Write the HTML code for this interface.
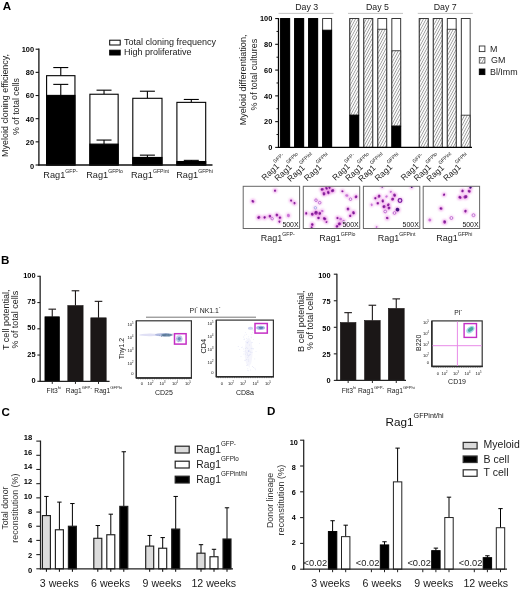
<!DOCTYPE html><html><head><meta charset="utf-8"><title>Figure</title>
<style>html,body{margin:0;padding:0;background:#fff}svg{display:block}text{font-family:'Liberation Sans', Arial, sans-serif}</style>
</head><body>
<svg width="520" height="589" viewBox="0 0 520 589" font-family='"Liberation Sans", Arial, sans-serif'>
<defs>
<pattern id="hatch" width="2.4" height="2.4" patternUnits="userSpaceOnUse" patternTransform="rotate(-62)"><rect width="2.4" height="2.4" fill="#fbfbfb"/><line x1="0" y1="1.2" x2="2.4" y2="1.2" stroke="#909090" stroke-width="0.72"/></pattern>
<filter id="b1" x="-50%" y="-50%" width="200%" height="200%"><feGaussianBlur stdDeviation="0.6"/></filter>
<filter id="b2" x="-50%" y="-50%" width="200%" height="200%"><feGaussianBlur stdDeviation="1.0"/></filter>
<filter id="b3" x="-50%" y="-50%" width="200%" height="200%"><feGaussianBlur stdDeviation="0.35"/></filter>
</defs>
<rect width="520" height="589" fill="#fff"/>
<text x="2.7" y="10.0" font-size="11.6" text-anchor="start" font-weight="bold" fill="#000">A</text>
<text x="1.0" y="263.7" font-size="11.6" text-anchor="start" font-weight="bold" fill="#000">B</text>
<text x="1.6" y="416.0" font-size="11.6" text-anchor="start" font-weight="bold" fill="#000">C</text>
<text x="266.9" y="415.1" font-size="11.6" text-anchor="start" font-weight="bold" fill="#000">D</text>
<line x1="60.775000000000006" y1="67.56" x2="60.775000000000006" y2="75.68" stroke="#000" stroke-width="1.1"/>
<line x1="53.275000000000006" y1="67.56" x2="68.275" y2="67.56" stroke="#000" stroke-width="1.1"/>
<rect x="46.6" y="75.68" width="28.35" height="89.32" fill="#fff" stroke="#000" stroke-width="1.1"/>
<rect x="46.6" y="95.4" width="28.35" height="69.6" fill="#000" stroke="#000" stroke-width="1.1"/>
<line x1="60.775000000000006" y1="84.38" x2="60.775000000000006" y2="95.4" stroke="#000" stroke-width="1.1"/>
<line x1="53.275000000000006" y1="84.38" x2="68.275" y2="84.38" stroke="#000" stroke-width="1.1"/>
<line x1="104.025" y1="90.18" x2="104.025" y2="94.24" stroke="#000" stroke-width="1.1"/>
<line x1="96.525" y1="90.18" x2="111.525" y2="90.18" stroke="#000" stroke-width="1.1"/>
<rect x="89.9" y="94.24" width="28.25" height="70.76" fill="#fff" stroke="#000" stroke-width="1.1"/>
<rect x="89.9" y="144.12" width="28.25" height="20.879999999999995" fill="#000" stroke="#000" stroke-width="1.1"/>
<line x1="104.025" y1="140.06" x2="104.025" y2="144.12" stroke="#000" stroke-width="1.1"/>
<line x1="96.525" y1="140.06" x2="111.525" y2="140.06" stroke="#000" stroke-width="1.1"/>
<line x1="147.4" y1="91.22" x2="147.4" y2="98.3" stroke="#000" stroke-width="1.1"/>
<line x1="139.9" y1="91.22" x2="154.9" y2="91.22" stroke="#000" stroke-width="1.1"/>
<rect x="132.8" y="98.3" width="29.19999999999999" height="66.7" fill="#fff" stroke="#000" stroke-width="1.1"/>
<rect x="132.8" y="157.46" width="29.19999999999999" height="7.539999999999992" fill="#000" stroke="#000" stroke-width="1.1"/>
<line x1="147.4" y1="155.14" x2="147.4" y2="157.46" stroke="#000" stroke-width="1.1"/>
<line x1="139.9" y1="155.14" x2="154.9" y2="155.14" stroke="#000" stroke-width="1.1"/>
<line x1="191.3" y1="99.46" x2="191.3" y2="102.36" stroke="#000" stroke-width="1.1"/>
<line x1="183.8" y1="99.46" x2="198.8" y2="99.46" stroke="#000" stroke-width="1.1"/>
<rect x="176.9" y="102.36" width="28.799999999999983" height="62.64" fill="#fff" stroke="#000" stroke-width="1.1"/>
<rect x="176.9" y="161.52" width="28.799999999999983" height="3.4799999999999898" fill="#000" stroke="#000" stroke-width="1.1"/>
<line x1="191.3" y1="160.36" x2="191.3" y2="161.52" stroke="#000" stroke-width="1.1"/>
<line x1="183.8" y1="160.36" x2="198.8" y2="160.36" stroke="#000" stroke-width="1.1"/>
<line x1="38.9" y1="48.6" x2="38.9" y2="165.6" stroke="#111" stroke-width="1.3"/>
<line x1="38.3" y1="165.0" x2="212.5" y2="165.0" stroke="#111" stroke-width="1.3"/>
<line x1="35.6" y1="165.0" x2="38.9" y2="165.0" stroke="#111" stroke-width="1.1"/>
<line x1="35.6" y1="141.84" x2="38.9" y2="141.84" stroke="#111" stroke-width="1.1"/>
<line x1="35.6" y1="118.68" x2="38.9" y2="118.68" stroke="#111" stroke-width="1.1"/>
<line x1="35.6" y1="95.52000000000001" x2="38.9" y2="95.52000000000001" stroke="#111" stroke-width="1.1"/>
<line x1="35.6" y1="72.36000000000001" x2="38.9" y2="72.36000000000001" stroke="#111" stroke-width="1.1"/>
<line x1="35.6" y1="49.2" x2="38.9" y2="49.2" stroke="#111" stroke-width="1.1"/>
<text x="34.1" y="168.85" font-size="7.4" text-anchor="end" font-weight="bold" fill="#000">0</text>
<text x="34.1" y="145.39" font-size="7.4" text-anchor="end" font-weight="bold" fill="#000">20</text>
<text x="34.1" y="121.93" font-size="7.4" text-anchor="end" font-weight="bold" fill="#000">40</text>
<text x="34.1" y="98.47" font-size="7.4" text-anchor="end" font-weight="bold" fill="#000">60</text>
<text x="34.1" y="75.01" font-size="7.4" text-anchor="end" font-weight="bold" fill="#000">80</text>
<text x="34.1" y="51.55" font-size="7.4" text-anchor="end" font-weight="bold" fill="#000">100</text>
<text x="8.2" y="105.4" font-size="8.95" text-anchor="middle" font-weight="normal" fill="#222" transform="rotate(-90 8.2 105.4)">Myeloid cloning efficiency,</text>
<text x="18.7" y="106.5" font-size="8.85" text-anchor="middle" font-weight="normal" fill="#222" transform="rotate(-90 18.7 106.5)">% of total cells</text>
<text x="60.5" y="178" font-size="9.2" text-anchor="middle" font-weight="normal" fill="#222">Rag1<tspan font-size="5.2" dy="-5">GFP-</tspan></text>
<text x="104.5" y="178" font-size="9.2" text-anchor="middle" font-weight="normal" fill="#222">Rag1<tspan font-size="5.2" dy="-5">GFPlo</tspan></text>
<text x="150" y="178" font-size="9.2" text-anchor="middle" font-weight="normal" fill="#222">Rag1<tspan font-size="5.2" dy="-5">GFPint</tspan></text>
<text x="194.5" y="178" font-size="9.2" text-anchor="middle" font-weight="normal" fill="#222">Rag1<tspan font-size="5.2" dy="-5">GFPhi</tspan></text>
<rect x="109.7" y="40.2" width="10.5" height="4.8" fill="#fff" stroke="#000" stroke-width="1"/>
<rect x="109.7" y="50.2" width="10.5" height="4.8" fill="#000" stroke="#000" stroke-width="1"/>
<text x="124" y="45.3" font-size="9.0" text-anchor="start" font-weight="normal" fill="#1a1a1a">Total cloning frequency</text>
<text x="124" y="54.8" font-size="9.0" text-anchor="start" font-weight="normal" fill="#1a1a1a">High proliferative</text>
<text x="306.75" y="10.2" font-size="8.8" text-anchor="middle" font-weight="normal" fill="#222">Day 3</text>
<line x1="278.5" y1="13.4" x2="333.5" y2="13.4" stroke="#bcbcbc" stroke-width="0.9"/>
<rect x="280.65" y="18.55" width="9.0" height="128.85" fill="#fff" stroke="#222" stroke-width="0.9"/>
<rect x="280.65" y="18.55" width="9.0" height="128.85" fill="#000" stroke="#000" stroke-width="0.9"/>
<rect x="294.65" y="18.55" width="9.0" height="128.85" fill="#fff" stroke="#222" stroke-width="0.9"/>
<rect x="294.65" y="18.55" width="9.0" height="128.85" fill="#000" stroke="#000" stroke-width="0.9"/>
<rect x="308.65" y="18.55" width="9.0" height="128.85" fill="#fff" stroke="#222" stroke-width="0.9"/>
<rect x="308.65" y="18.55" width="9.0" height="128.85" fill="#000" stroke="#000" stroke-width="0.9"/>
<rect x="322.65" y="18.55" width="9.0" height="128.85" fill="#fff" stroke="#222" stroke-width="0.9"/>
<rect x="322.65" y="30.15" width="9.0" height="117.25" fill="#000" stroke="#000" stroke-width="0.9"/>
<text x="264.8" y="180.9" font-size="8.5" text-anchor="start" fill="#222" transform="rotate(-43 264.8 180.9)">Rag1<tspan font-size="5.0" dy="-5.8" dx="-0.8">GFP-</tspan></text>
<text x="277.7" y="181.6" font-size="8.5" text-anchor="start" fill="#222" transform="rotate(-43 277.7 181.6)">Rag1<tspan font-size="5.0" dy="-5.8" dx="-0.8">GFPlo</tspan></text>
<text x="290.6" y="182.3" font-size="8.5" text-anchor="start" fill="#222" transform="rotate(-43 290.6 182.3)">Rag1<tspan font-size="5.0" dy="-5.8" dx="-0.8">GFPint</tspan></text>
<text x="307.3" y="181.6" font-size="8.5" text-anchor="start" fill="#222" transform="rotate(-43 307.3 181.6)">Rag1<tspan font-size="5.0" dy="-5.8" dx="-0.8">GFPhi</tspan></text>
<text x="377.5" y="10.2" font-size="8.8" text-anchor="middle" font-weight="normal" fill="#222">Day 5</text>
<line x1="348.0" y1="13.4" x2="403.0" y2="13.4" stroke="#bcbcbc" stroke-width="0.9"/>
<rect x="349.85" y="18.55" width="8.85" height="128.85" fill="#fff" stroke="#222" stroke-width="0.9"/>
<rect x="349.85" y="18.55" width="8.85" height="96.64" fill="url(#hatch)" stroke="#333" stroke-width="0.9"/>
<rect x="349.85" y="115.19" width="8.85" height="32.21000000000001" fill="#000" stroke="#000" stroke-width="0.9"/>
<rect x="363.85" y="18.55" width="8.85" height="128.85" fill="#fff" stroke="#222" stroke-width="0.9"/>
<rect x="363.85" y="18.55" width="8.85" height="128.85" fill="url(#hatch)" stroke="#333" stroke-width="0.9"/>
<rect x="377.85" y="18.55" width="8.85" height="128.85" fill="#fff" stroke="#222" stroke-width="0.9"/>
<rect x="377.85" y="29.24" width="8.85" height="118.16000000000001" fill="url(#hatch)" stroke="#333" stroke-width="0.9"/>
<rect x="391.85" y="18.55" width="8.85" height="128.85" fill="#fff" stroke="#222" stroke-width="0.9"/>
<rect x="391.85" y="50.76" width="8.85" height="75.38" fill="url(#hatch)" stroke="#333" stroke-width="0.9"/>
<rect x="391.85" y="126.14" width="8.85" height="21.260000000000005" fill="#000" stroke="#000" stroke-width="0.9"/>
<text x="335.6" y="180.9" font-size="8.5" text-anchor="start" fill="#222" transform="rotate(-43 335.6 180.9)">Rag1<tspan font-size="5.0" dy="-5.8" dx="-0.8">GFP-</tspan></text>
<text x="348.5" y="181.6" font-size="8.5" text-anchor="start" fill="#222" transform="rotate(-43 348.5 181.6)">Rag1<tspan font-size="5.0" dy="-5.8" dx="-0.8">GFPlo</tspan></text>
<text x="361.4" y="182.3" font-size="8.5" text-anchor="start" fill="#222" transform="rotate(-43 361.4 182.3)">Rag1<tspan font-size="5.0" dy="-5.8" dx="-0.8">GFPint</tspan></text>
<text x="378.1" y="181.6" font-size="8.5" text-anchor="start" fill="#222" transform="rotate(-43 378.1 181.6)">Rag1<tspan font-size="5.0" dy="-5.8" dx="-0.8">GFPhi</tspan></text>
<text x="445.25" y="10.2" font-size="8.8" text-anchor="middle" font-weight="normal" fill="#222">Day 7</text>
<line x1="417.8" y1="13.4" x2="472.8" y2="13.4" stroke="#bcbcbc" stroke-width="0.9"/>
<rect x="419.3" y="18.55" width="8.85" height="128.85" fill="#fff" stroke="#222" stroke-width="0.9"/>
<rect x="419.3" y="18.55" width="8.85" height="128.85" fill="url(#hatch)" stroke="#333" stroke-width="0.9"/>
<rect x="433.3" y="18.55" width="8.85" height="128.85" fill="#fff" stroke="#222" stroke-width="0.9"/>
<rect x="433.3" y="18.55" width="8.85" height="128.85" fill="url(#hatch)" stroke="#333" stroke-width="0.9"/>
<rect x="447.3" y="18.55" width="8.85" height="128.85" fill="#fff" stroke="#222" stroke-width="0.9"/>
<rect x="447.3" y="29.24" width="8.85" height="118.16000000000001" fill="url(#hatch)" stroke="#333" stroke-width="0.9"/>
<rect x="461.3" y="18.55" width="8.85" height="128.85" fill="#fff" stroke="#222" stroke-width="0.9"/>
<rect x="461.3" y="115.19" width="8.85" height="32.21000000000001" fill="url(#hatch)" stroke="#333" stroke-width="0.9"/>
<text x="404.0" y="180.9" font-size="8.5" text-anchor="start" fill="#222" transform="rotate(-43 404.0 180.9)">Rag1<tspan font-size="5.0" dy="-5.8" dx="-0.8">GFP-</tspan></text>
<text x="416.9" y="181.6" font-size="8.5" text-anchor="start" fill="#222" transform="rotate(-43 416.9 181.6)">Rag1<tspan font-size="5.0" dy="-5.8" dx="-0.8">GFPlo</tspan></text>
<text x="429.8" y="182.3" font-size="8.5" text-anchor="start" fill="#222" transform="rotate(-43 429.8 182.3)">Rag1<tspan font-size="5.0" dy="-5.8" dx="-0.8">GFPint</tspan></text>
<text x="446.5" y="181.6" font-size="8.5" text-anchor="start" fill="#222" transform="rotate(-43 446.5 181.6)">Rag1<tspan font-size="5.0" dy="-5.8" dx="-0.8">GFPhi</tspan></text>
<line x1="278.5" y1="18.05" x2="278.5" y2="148.0" stroke="#000" stroke-width="1.3"/>
<line x1="277.9" y1="147.4" x2="472" y2="147.4" stroke="#000" stroke-width="1.3"/>
<line x1="275.2" y1="147.4" x2="278.5" y2="147.4" stroke="#111" stroke-width="1.1"/>
<line x1="276.5" y1="134.52" x2="278.5" y2="134.52" stroke="#111" stroke-width="1.0"/>
<line x1="275.2" y1="121.63" x2="278.5" y2="121.63" stroke="#111" stroke-width="1.1"/>
<line x1="276.5" y1="108.75" x2="278.5" y2="108.75" stroke="#111" stroke-width="1.0"/>
<line x1="275.2" y1="95.86" x2="278.5" y2="95.86" stroke="#111" stroke-width="1.1"/>
<line x1="276.5" y1="82.98" x2="278.5" y2="82.98" stroke="#111" stroke-width="1.0"/>
<line x1="275.2" y1="70.09" x2="278.5" y2="70.09" stroke="#111" stroke-width="1.1"/>
<line x1="276.5" y1="57.21" x2="278.5" y2="57.21" stroke="#111" stroke-width="1.0"/>
<line x1="275.2" y1="44.32" x2="278.5" y2="44.32" stroke="#111" stroke-width="1.1"/>
<line x1="276.5" y1="31.44" x2="278.5" y2="31.44" stroke="#111" stroke-width="1.0"/>
<line x1="275.2" y1="18.55" x2="278.5" y2="18.55" stroke="#111" stroke-width="1.1"/>
<text x="272.3" y="150.05" font-size="7.4" text-anchor="end" font-weight="bold" fill="#000">0</text>
<text x="272.3" y="124.28" font-size="7.4" text-anchor="end" font-weight="bold" fill="#000">20</text>
<text x="272.3" y="98.51" font-size="7.4" text-anchor="end" font-weight="bold" fill="#000">40</text>
<text x="272.3" y="72.74" font-size="7.4" text-anchor="end" font-weight="bold" fill="#000">60</text>
<text x="272.3" y="46.97" font-size="7.4" text-anchor="end" font-weight="bold" fill="#000">80</text>
<text x="272.3" y="21.2" font-size="7.4" text-anchor="end" font-weight="bold" fill="#000">100</text>
<text x="246.3" y="79.9" font-size="9.1" text-anchor="middle" font-weight="normal" fill="#222" transform="rotate(-90 246.3 79.9)">Myeloid differentiation,</text>
<text x="256.7" y="74.6" font-size="9.0" text-anchor="middle" font-weight="normal" fill="#222" transform="rotate(-90 256.7 74.6)">% of total cultures</text>
<rect x="479.3" y="46" width="5.6" height="5.6" fill="#fff" stroke="#333" stroke-width="0.9"/>
<rect x="479.3" y="57.5" width="5.6" height="5.6" fill="url(#hatch)" stroke="#555" stroke-width="0.9"/>
<rect x="479.3" y="69" width="5.6" height="5.6" fill="#000" stroke="#000" stroke-width="0.9"/>
<text x="490" y="51.6" font-size="8.9" text-anchor="start" font-weight="normal" fill="#222">M</text>
<text x="491" y="63.3" font-size="8.9" text-anchor="start" font-weight="normal" fill="#222">GM</text>
<text x="490" y="74.6" font-size="8.9" text-anchor="start" font-weight="normal" fill="#222">Bl/Imm</text>
<clipPath id="cp0"><rect x="243.2" y="186.3" width="56.4" height="42.2"/></clipPath>
<rect x="243.2" y="186.3" width="56.4" height="42.2" fill="#fff" stroke="none" stroke-width="0"/>
<g clip-path="url(#cp0)">
<g filter="url(#b2)">
<circle cx="275.1" cy="190.6" r="2.3" fill="#ea88e4" opacity="0.7"/>
<circle cx="252.9" cy="201.3" r="2.5" fill="#ea88e4" opacity="0.7"/>
<circle cx="291.1" cy="200.5" r="2.2" fill="#ea88e4" opacity="0.7"/>
<circle cx="294.5" cy="203.2" r="2.3" fill="#ea88e4" opacity="0.7"/>
<circle cx="258.8" cy="217.4" r="2.7" fill="#ea88e4" opacity="0.7"/>
<circle cx="264.6" cy="217.4" r="2.5" fill="#ea88e4" opacity="0.7"/>
<circle cx="269.9" cy="216.2" r="2.5" fill="#ea88e4" opacity="0.7"/>
<circle cx="272.2" cy="218.7" r="2.3" fill="#ea88e4" opacity="0.45"/>
<circle cx="276.9" cy="215" r="2.5" fill="#ea88e4" opacity="0.7"/>
<circle cx="280" cy="217.7" r="2.4" fill="#ea88e4" opacity="0.7"/>
<circle cx="279.4" cy="221.6" r="2.2" fill="#ea88e4" opacity="0.7"/>
<circle cx="288.4" cy="215.5" r="2.7" fill="#ea88e4" opacity="0.45"/>
</g>
<g filter="url(#b3)">
<ellipse cx="275.1" cy="190.6" rx="1.04" ry="1.18" fill="#a030ac" transform="rotate(166 275.1 190.6)"/>
<circle cx="274.74" cy="190.86" r="0.60" fill="#6c1e8c"/>
<ellipse cx="252.9" cy="201.3" rx="1.18" ry="1.54" fill="#a030ac" transform="rotate(129 252.9 201.3)"/>
<circle cx="252.67" cy="200.97" r="0.72" fill="#6c1e8c"/>
<ellipse cx="291.1" cy="200.5" rx="0.99" ry="1.12" fill="#a030ac" transform="rotate(141 291.1 200.5)"/>
<circle cx="291.04" cy="200.76" r="0.56" fill="#6c1e8c"/>
<ellipse cx="294.5" cy="203.2" rx="0.99" ry="1.19" fill="#a030ac" transform="rotate(160 294.5 203.2)"/>
<circle cx="294.57" cy="202.85" r="0.60" fill="#6c1e8c"/>
<ellipse cx="258.8" cy="217.4" rx="1.47" ry="1.54" fill="#a030ac" transform="rotate(56 258.8 217.4)"/>
<circle cx="258.44" cy="217.69" r="0.80" fill="#6c1e8c"/>
<ellipse cx="264.6" cy="217.4" rx="1.17" ry="1.33" fill="#a030ac" transform="rotate(30 264.6 217.4)"/>
<circle cx="264.66" cy="217.45" r="0.68" fill="#6c1e8c"/>
<ellipse cx="269.9" cy="216.2" rx="1.27" ry="1.32" fill="#a030ac" transform="rotate(146 269.9 216.2)"/>
<circle cx="270.01" cy="216.10" r="0.68" fill="#6c1e8c"/>
<circle cx="272.2" cy="218.7" r="1.20" fill="#f6e6f8" stroke="#b85acc" stroke-width="0.8"/>
<ellipse cx="276.9" cy="215" rx="1.26" ry="1.43" fill="#a030ac" transform="rotate(136 276.9 215)"/>
<circle cx="276.84" cy="214.85" r="0.68" fill="#6c1e8c"/>
<ellipse cx="280" cy="217.7" rx="1.17" ry="1.33" fill="#a030ac" transform="rotate(76 280 217.7)"/>
<circle cx="279.80" cy="217.44" r="0.64" fill="#6c1e8c"/>
<ellipse cx="279.4" cy="221.6" rx="1.07" ry="1.08" fill="#a030ac" transform="rotate(76 279.4 221.6)"/>
<circle cx="279.42" cy="221.90" r="0.56" fill="#6c1e8c"/>
<ellipse cx="288.4" cy="215.5" rx="1.51" ry="1.61" fill="#c264d2" opacity="0.85" transform="rotate(18 288.4 215.5)"/>
</g>
</g>
<rect x="282.2" y="220.8" width="17" height="7" fill="#fff" stroke="none" stroke-width="0" opacity="0.75"/>
<text x="298.59999999999997" y="226.7" font-size="7.6" text-anchor="end" font-weight="normal" fill="#111" textLength="16.2" lengthAdjust="spacingAndGlyphs">500X</text>
<rect x="243.2" y="186.3" width="56.4" height="42.2" fill="none" stroke="#666" stroke-width="1.0"/>
<text x="260.8" y="241.1" font-size="9.0" text-anchor="start" font-weight="normal" fill="#222">Rag1<tspan font-size="5.2" dy="-5.6">GFP-</tspan></text>
<clipPath id="cp1"><rect x="303.3" y="186.3" width="56.4" height="42.2"/></clipPath>
<rect x="303.3" y="186.3" width="56.4" height="42.2" fill="#fff" stroke="none" stroke-width="0"/>
<g clip-path="url(#cp1)">
<g filter="url(#b2)">
<circle cx="322.2" cy="189.4" r="2.7" fill="#ea88e4" opacity="0.7"/>
<circle cx="326.5" cy="188.2" r="2.5" fill="#ea88e4" opacity="0.7"/>
<circle cx="329.5" cy="187.6" r="2.4" fill="#ea88e4" opacity="0.7"/>
<circle cx="332.6" cy="190.6" r="2.9" fill="#ea88e4" opacity="0.7"/>
<circle cx="328.3" cy="192.5" r="2.7" fill="#ea88e4" opacity="0.7"/>
<circle cx="324" cy="193.7" r="2.7" fill="#ea88e4" opacity="0.7"/>
<circle cx="342.5" cy="191.2" r="2.1" fill="#ea88e4" opacity="0.7"/>
<circle cx="346.8" cy="195.5" r="2.7" fill="#ea88e4" opacity="0.45"/>
<circle cx="350.5" cy="199.2" r="2.4" fill="#ea88e4" opacity="0.45"/>
<circle cx="356" cy="196.8" r="2.5" fill="#ea88e4" opacity="0.7"/>
<circle cx="316" cy="200.2" r="2.4" fill="#ea88e4" opacity="0.45"/>
<circle cx="319.7" cy="202.7" r="2.4" fill="#ea88e4" opacity="0.45"/>
<circle cx="315.4" cy="207.8" r="2.3" fill="#ea88e4" opacity="0.45"/>
<circle cx="348" cy="209" r="2.5" fill="#ea88e4" opacity="0.7"/>
<circle cx="353.5" cy="212.8" r="2.7" fill="#ea88e4" opacity="0.7"/>
<circle cx="350.2" cy="215.8" r="2.3" fill="#ea88e4" opacity="0.7"/>
<circle cx="306.2" cy="213.4" r="2.3" fill="#ea88e4" opacity="0.7"/>
<circle cx="312.3" cy="214.2" r="2.7" fill="#ea88e4" opacity="0.7"/>
<circle cx="316" cy="212.8" r="2.9" fill="#ea88e4" opacity="0.7"/>
<circle cx="319.7" cy="213.4" r="2.7" fill="#ea88e4" opacity="0.7"/>
<circle cx="322.2" cy="211" r="2.4" fill="#ea88e4" opacity="0.45"/>
<circle cx="318.5" cy="218" r="2.5" fill="#ea88e4" opacity="0.7"/>
<circle cx="324.6" cy="218.7" r="2.9" fill="#ea88e4" opacity="0.7"/>
<circle cx="326.5" cy="222" r="2.1" fill="#ea88e4" opacity="0.7"/>
<circle cx="337.5" cy="218" r="2.3" fill="#ea88e4" opacity="0.7"/>
<circle cx="340.6" cy="219" r="2.4" fill="#ea88e4" opacity="0.45"/>
<circle cx="343.7" cy="222" r="2.7" fill="#ea88e4" opacity="0.7"/>
<circle cx="339.4" cy="223.8" r="2.7" fill="#ea88e4" opacity="0.7"/>
<circle cx="337" cy="226.3" r="2.5" fill="#ea88e4" opacity="0.7"/>
<circle cx="312.3" cy="224.5" r="2.5" fill="#ea88e4" opacity="0.7"/>
<circle cx="311.7" cy="227.3" r="2.1" fill="#ea88e4" opacity="0.7"/>
<circle cx="346" cy="224.5" r="2.5" fill="#ea88e4" opacity="0.7"/>
</g>
<g filter="url(#b3)">
<ellipse cx="322.2" cy="189.4" rx="1.32" ry="1.65" fill="#a030ac" transform="rotate(87 322.2 189.4)"/>
<circle cx="321.92" cy="189.39" r="0.80" fill="#6c1e8c"/>
<ellipse cx="326.5" cy="188.2" rx="1.16" ry="1.56" fill="#a030ac" transform="rotate(142 326.5 188.2)"/>
<circle cx="326.56" cy="188.50" r="0.72" fill="#6c1e8c"/>
<ellipse cx="329.5" cy="187.6" rx="1.10" ry="1.39" fill="#a030ac" transform="rotate(152 329.5 187.6)"/>
<circle cx="329.50" cy="187.84" r="0.64" fill="#6c1e8c"/>
<ellipse cx="332.6" cy="190.6" rx="1.43" ry="1.70" fill="#a030ac" transform="rotate(69 332.6 190.6)"/>
<circle cx="332.58" cy="190.73" r="0.88" fill="#6c1e8c"/>
<ellipse cx="328.3" cy="192.5" rx="1.30" ry="1.74" fill="#a030ac" transform="rotate(165 328.3 192.5)"/>
<circle cx="328.36" cy="192.64" r="0.80" fill="#6c1e8c"/>
<ellipse cx="324" cy="193.7" rx="1.42" ry="1.75" fill="#a030ac" transform="rotate(171 324 193.7)"/>
<circle cx="323.88" cy="194.05" r="0.80" fill="#6c1e8c"/>
<ellipse cx="342.5" cy="191.2" rx="0.91" ry="1.12" fill="#a030ac" transform="rotate(126 342.5 191.2)"/>
<circle cx="342.15" cy="191.41" r="0.52" fill="#6c1e8c"/>
<ellipse cx="346.8" cy="195.5" rx="1.32" ry="1.60" fill="#c264d2" opacity="0.85" transform="rotate(100 346.8 195.5)"/>
<circle cx="350.5" cy="199.2" r="1.28" fill="#f6e6f8" stroke="#b85acc" stroke-width="0.8"/>
<ellipse cx="356" cy="196.8" rx="1.28" ry="1.53" fill="#a030ac" transform="rotate(35 356 196.8)"/>
<circle cx="356.26" cy="197.09" r="0.72" fill="#6c1e8c"/>
<circle cx="316" cy="200.2" r="1.28" fill="#f6e6f8" stroke="#b85acc" stroke-width="0.8"/>
<circle cx="319.7" cy="202.7" r="1.28" fill="#f6e6f8" stroke="#b85acc" stroke-width="0.8"/>
<circle cx="315.4" cy="207.8" r="1.20" fill="#f4f0ff" stroke="#8f98e0" stroke-width="0.7"/>
<ellipse cx="348" cy="209" rx="1.34" ry="1.37" fill="#a030ac" transform="rotate(150 348 209)"/>
<circle cx="347.75" cy="208.83" r="0.72" fill="#6c1e8c"/>
<ellipse cx="353.5" cy="212.8" rx="1.33" ry="1.69" fill="#a030ac" transform="rotate(156 353.5 212.8)"/>
<circle cx="353.55" cy="213.16" r="0.80" fill="#6c1e8c"/>
<ellipse cx="350.2" cy="215.8" rx="1.13" ry="1.26" fill="#a030ac" transform="rotate(158 350.2 215.8)"/>
<circle cx="350.32" cy="215.99" r="0.60" fill="#6c1e8c"/>
<ellipse cx="306.2" cy="213.4" rx="1.07" ry="1.35" fill="#a030ac" transform="rotate(174 306.2 213.4)"/>
<circle cx="306.44" cy="213.31" r="0.60" fill="#6c1e8c"/>
<ellipse cx="312.3" cy="214.2" rx="1.41" ry="1.55" fill="#a030ac" transform="rotate(162 312.3 214.2)"/>
<circle cx="312.22" cy="213.95" r="0.80" fill="#6c1e8c"/>
<ellipse cx="316" cy="212.8" rx="1.83" ry="1.91" fill="#a030ac" transform="rotate(28 316 212.8)"/>
<circle cx="315.87" cy="212.44" r="0.92" fill="#6c1e8c"/>
<ellipse cx="319.7" cy="213.4" rx="1.28" ry="1.57" fill="#a030ac" transform="rotate(25 319.7 213.4)"/>
<circle cx="320.06" cy="213.49" r="0.80" fill="#6c1e8c"/>
<ellipse cx="322.2" cy="211" rx="1.04" ry="1.27" fill="#c264d2" opacity="0.85" transform="rotate(96 322.2 211)"/>
<ellipse cx="318.5" cy="218" rx="1.13" ry="1.36" fill="#a030ac" transform="rotate(88 318.5 218)"/>
<circle cx="318.58" cy="217.98" r="0.68" fill="#6c1e8c"/>
<ellipse cx="324.6" cy="218.7" rx="1.45" ry="1.84" fill="#a030ac" transform="rotate(119 324.6 218.7)"/>
<circle cx="324.58" cy="218.55" r="0.88" fill="#6c1e8c"/>
<ellipse cx="326.5" cy="222" rx="0.80" ry="1.06" fill="#a030ac" transform="rotate(67 326.5 222)"/>
<circle cx="326.48" cy="222.15" r="0.48" fill="#6c1e8c"/>
<ellipse cx="337.5" cy="218" rx="1.08" ry="1.19" fill="#a030ac" transform="rotate(135 337.5 218)"/>
<circle cx="337.39" cy="218.15" r="0.60" fill="#6c1e8c"/>
<ellipse cx="340.6" cy="219" rx="1.26" ry="1.41" fill="#c264d2" opacity="0.85" transform="rotate(76 340.6 219)"/>
<ellipse cx="343.7" cy="222" rx="1.59" ry="1.80" fill="#a030ac" transform="rotate(178 343.7 222)"/>
<circle cx="343.98" cy="222.01" r="0.80" fill="#6c1e8c"/>
<ellipse cx="339.4" cy="223.8" rx="1.57" ry="1.63" fill="#a030ac" transform="rotate(57 339.4 223.8)"/>
<circle cx="339.43" cy="224.02" r="0.80" fill="#6c1e8c"/>
<ellipse cx="337" cy="226.3" rx="1.25" ry="1.43" fill="#a030ac" transform="rotate(49 337 226.3)"/>
<circle cx="337.24" cy="226.55" r="0.72" fill="#6c1e8c"/>
<ellipse cx="312.3" cy="224.5" rx="1.29" ry="1.35" fill="#a030ac" transform="rotate(132 312.3 224.5)"/>
<circle cx="312.29" cy="224.68" r="0.68" fill="#6c1e8c"/>
<ellipse cx="311.7" cy="227.3" rx="0.96" ry="1.06" fill="#a030ac" transform="rotate(120 311.7 227.3)"/>
<circle cx="311.51" cy="227.45" r="0.48" fill="#6c1e8c"/>
<ellipse cx="346" cy="224.5" rx="1.43" ry="1.50" fill="#a030ac" transform="rotate(89 346 224.5)"/>
<circle cx="346.36" cy="224.39" r="0.72" fill="#6c1e8c"/>
</g>
</g>
<rect x="342.3" y="220.8" width="17" height="7" fill="#fff" stroke="none" stroke-width="0" opacity="0.75"/>
<text x="358.7" y="226.7" font-size="7.6" text-anchor="end" font-weight="normal" fill="#111" textLength="16.2" lengthAdjust="spacingAndGlyphs">500X</text>
<rect x="303.3" y="186.3" width="56.4" height="42.2" fill="none" stroke="#666" stroke-width="1.0"/>
<text x="319.25" y="241.1" font-size="9.0" text-anchor="start" font-weight="normal" fill="#222">Rag1<tspan font-size="5.2" dy="-5.6">GFPlo</tspan></text>
<clipPath id="cp2"><rect x="363.4" y="186.3" width="56.4" height="42.2"/></clipPath>
<rect x="363.4" y="186.3" width="56.4" height="42.2" fill="#fff" stroke="none" stroke-width="0"/>
<g clip-path="url(#cp2)">
<g filter="url(#b2)">
<circle cx="390.8" cy="191.8" r="2.3" fill="#ea88e4" opacity="0.45"/>
<circle cx="394.5" cy="195.3" r="2.7" fill="#ea88e4" opacity="0.7"/>
<circle cx="379.1" cy="196.2" r="2.5" fill="#ea88e4" opacity="0.7"/>
<circle cx="386.5" cy="196.5" r="2.3" fill="#ea88e4" opacity="0.45"/>
<circle cx="375.4" cy="198.2" r="2.3" fill="#ea88e4" opacity="0.7"/>
<circle cx="392.6" cy="199.2" r="2.5" fill="#ea88e4" opacity="0.7"/>
<circle cx="400" cy="200.5" r="2.9" fill="#ea88e4" opacity="0.7"/>
<circle cx="382.8" cy="201" r="2.5" fill="#ea88e4" opacity="0.7"/>
<circle cx="377.8" cy="203.2" r="2.3" fill="#ea88e4" opacity="0.7"/>
<circle cx="371.7" cy="204.8" r="2.3" fill="#ea88e4" opacity="0.45"/>
<circle cx="388.3" cy="204.8" r="2.5" fill="#ea88e4" opacity="0.7"/>
<circle cx="384" cy="206.6" r="2.7" fill="#ea88e4" opacity="0.7"/>
<circle cx="389" cy="208" r="2.5" fill="#ea88e4" opacity="0.7"/>
<circle cx="397.5" cy="209.7" r="2.9" fill="#ea88e4" opacity="0.7"/>
<circle cx="385.2" cy="211.5" r="2.5" fill="#ea88e4" opacity="0.45"/>
<circle cx="394.5" cy="213" r="2.5" fill="#ea88e4" opacity="0.45"/>
<circle cx="387.3" cy="218" r="2.5" fill="#ea88e4" opacity="0.7"/>
<circle cx="376.6" cy="227" r="2.1" fill="#ea88e4" opacity="0.45"/>
<circle cx="382.2" cy="187.2" r="1.7" fill="#ea88e4" opacity="0.7"/>
<circle cx="411.7" cy="187.2" r="2.0" fill="#ea88e4" opacity="0.7"/>
</g>
<g filter="url(#b3)">
<ellipse cx="390.8" cy="191.8" rx="1.01" ry="1.19" fill="#c264d2" opacity="0.85" transform="rotate(50 390.8 191.8)"/>
<ellipse cx="394.5" cy="195.3" rx="1.39" ry="1.67" fill="#a030ac" transform="rotate(156 394.5 195.3)"/>
<circle cx="394.77" cy="195.28" r="0.80" fill="#6c1e8c"/>
<ellipse cx="379.1" cy="196.2" rx="1.34" ry="1.60" fill="#a030ac" transform="rotate(21 379.1 196.2)"/>
<circle cx="379.37" cy="195.90" r="0.72" fill="#6c1e8c"/>
<ellipse cx="386.5" cy="196.5" rx="1.05" ry="1.31" fill="#c264d2" opacity="0.85" transform="rotate(51 386.5 196.5)"/>
<ellipse cx="375.4" cy="198.2" rx="1.07" ry="1.18" fill="#a030ac" transform="rotate(162 375.4 198.2)"/>
<circle cx="375.27" cy="198.44" r="0.60" fill="#6c1e8c"/>
<ellipse cx="392.6" cy="199.2" rx="1.43" ry="1.48" fill="#a030ac" transform="rotate(102 392.6 199.2)"/>
<circle cx="392.79" cy="198.87" r="0.72" fill="#6c1e8c"/>
<circle cx="400" cy="200.5" r="1.84" fill="#e9c9f0" stroke="#7a1fa0" stroke-width="1.2"/>
<ellipse cx="382.8" cy="201" rx="1.20" ry="1.63" fill="#a030ac" transform="rotate(167 382.8 201)"/>
<circle cx="382.52" cy="201.26" r="0.72" fill="#6c1e8c"/>
<ellipse cx="377.8" cy="203.2" rx="1.20" ry="1.30" fill="#a030ac" transform="rotate(89 377.8 203.2)"/>
<circle cx="377.52" cy="203.24" r="0.60" fill="#6c1e8c"/>
<ellipse cx="371.7" cy="204.8" rx="0.97" ry="1.33" fill="#c264d2" opacity="0.85" transform="rotate(166 371.7 204.8)"/>
<ellipse cx="388.3" cy="204.8" rx="1.18" ry="1.58" fill="#a030ac" transform="rotate(35 388.3 204.8)"/>
<circle cx="388.25" cy="205.10" r="0.72" fill="#6c1e8c"/>
<ellipse cx="384" cy="206.6" rx="1.54" ry="1.59" fill="#a030ac" transform="rotate(64 384 206.6)"/>
<circle cx="383.77" cy="206.60" r="0.80" fill="#6c1e8c"/>
<ellipse cx="389" cy="208" rx="1.37" ry="1.46" fill="#a030ac" transform="rotate(139 389 208)"/>
<circle cx="388.94" cy="207.70" r="0.72" fill="#6c1e8c"/>
<ellipse cx="397.5" cy="209.7" rx="1.81" ry="1.88" fill="#45157f" transform="rotate(117 397.5 209.7)"/>
<circle cx="385.2" cy="211.5" r="1.36" fill="#f6e6f8" stroke="#b85acc" stroke-width="0.8"/>
<circle cx="394.5" cy="213" r="1.36" fill="#f6e6f8" stroke="#b85acc" stroke-width="0.8"/>
<ellipse cx="387.3" cy="218" rx="1.12" ry="1.33" fill="#a030ac" transform="rotate(130 387.3 218)"/>
<circle cx="386.91" cy="217.95" r="0.68" fill="#6c1e8c"/>
<ellipse cx="376.6" cy="227" rx="0.80" ry="0.91" fill="#c264d2" opacity="0.85" transform="rotate(38 376.6 227)"/>
<ellipse cx="382.2" cy="187.2" rx="0.53" ry="0.67" fill="#45157f" transform="rotate(30 382.2 187.2)"/>
<ellipse cx="411.7" cy="187.2" rx="0.80" ry="0.89" fill="#45157f" transform="rotate(132 411.7 187.2)"/>
</g>
</g>
<rect x="402.4" y="220.8" width="17" height="7" fill="#fff" stroke="none" stroke-width="0" opacity="0.75"/>
<text x="418.79999999999995" y="226.7" font-size="7.6" text-anchor="end" font-weight="normal" fill="#111" textLength="16.2" lengthAdjust="spacingAndGlyphs">500X</text>
<rect x="363.4" y="186.3" width="56.4" height="42.2" fill="none" stroke="#666" stroke-width="1.0"/>
<text x="377.70000000000005" y="241.1" font-size="9.0" text-anchor="start" font-weight="normal" fill="#222">Rag1<tspan font-size="5.2" dy="-5.6">GFPint</tspan></text>
<clipPath id="cp3"><rect x="423.2" y="186.3" width="56.4" height="42.2"/></clipPath>
<rect x="423.2" y="186.3" width="56.4" height="42.2" fill="#fff" stroke="none" stroke-width="0"/>
<g clip-path="url(#cp3)">
<g filter="url(#b2)">
<circle cx="444" cy="194.7" r="2.3" fill="#ea88e4" opacity="0.7"/>
<circle cx="462.5" cy="190.9" r="2.5" fill="#ea88e4" opacity="0.7"/>
<circle cx="469.2" cy="191.2" r="2.5" fill="#ea88e4" opacity="0.7"/>
<circle cx="470.5" cy="187.5" r="2.3" fill="#ea88e4" opacity="0.7"/>
<circle cx="460" cy="197.4" r="2.7" fill="#ea88e4" opacity="0.7"/>
<circle cx="465.5" cy="196.8" r="2.9" fill="#ea88e4" opacity="0.7"/>
<circle cx="441" cy="208.5" r="2.5" fill="#ea88e4" opacity="0.7"/>
<circle cx="465.5" cy="211.2" r="2.5" fill="#ea88e4" opacity="0.7"/>
<circle cx="473.5" cy="215.2" r="2.5" fill="#ea88e4" opacity="0.45"/>
<circle cx="451.4" cy="218" r="2.5" fill="#ea88e4" opacity="0.45"/>
<circle cx="429.8" cy="220" r="2.5" fill="#ea88e4" opacity="0.45"/>
<circle cx="444.6" cy="222" r="2.7" fill="#ea88e4" opacity="0.7"/>
</g>
<g filter="url(#b3)">
<ellipse cx="444" cy="194.7" rx="1.09" ry="1.26" fill="#a030ac" transform="rotate(27 444 194.7)"/>
<circle cx="444.31" cy="194.35" r="0.60" fill="#6c1e8c"/>
<ellipse cx="462.5" cy="190.9" rx="1.21" ry="1.38" fill="#a030ac" transform="rotate(25 462.5 190.9)"/>
<circle cx="462.51" cy="190.95" r="0.72" fill="#6c1e8c"/>
<ellipse cx="469.2" cy="191.2" rx="1.37" ry="1.63" fill="#a030ac" transform="rotate(113 469.2 191.2)"/>
<circle cx="469.06" cy="191.58" r="0.72" fill="#6c1e8c"/>
<ellipse cx="470.5" cy="187.5" rx="1.11" ry="1.19" fill="#45157f" transform="rotate(70 470.5 187.5)"/>
<ellipse cx="460" cy="197.4" rx="1.42" ry="1.69" fill="#a030ac" transform="rotate(122 460 197.4)"/>
<circle cx="460.01" cy="197.20" r="0.80" fill="#6c1e8c"/>
<ellipse cx="465.5" cy="196.8" rx="1.66" ry="2.07" fill="#a030ac" transform="rotate(66 465.5 196.8)"/>
<circle cx="465.84" cy="197.11" r="0.92" fill="#6c1e8c"/>
<ellipse cx="441" cy="208.5" rx="1.21" ry="1.50" fill="#a030ac" transform="rotate(106 441 208.5)"/>
<circle cx="440.70" cy="208.45" r="0.72" fill="#6c1e8c"/>
<ellipse cx="465.5" cy="211.2" rx="1.17" ry="1.44" fill="#a030ac" transform="rotate(18 465.5 211.2)"/>
<circle cx="465.27" cy="211.04" r="0.72" fill="#6c1e8c"/>
<circle cx="473.5" cy="215.2" r="1.44" fill="#f6e6f8" stroke="#b85acc" stroke-width="0.8"/>
<circle cx="451.4" cy="218" r="1.44" fill="#f6e6f8" stroke="#b85acc" stroke-width="0.8"/>
<ellipse cx="429.8" cy="220" rx="1.43" ry="1.43" fill="#c264d2" opacity="0.85" transform="rotate(24 429.8 220)"/>
<ellipse cx="444.6" cy="222" rx="1.41" ry="1.68" fill="#a030ac" transform="rotate(170 444.6 222)"/>
<circle cx="444.87" cy="221.73" r="0.80" fill="#6c1e8c"/>
</g>
</g>
<rect x="462.2" y="220.8" width="17" height="7" fill="#fff" stroke="none" stroke-width="0" opacity="0.75"/>
<text x="478.59999999999997" y="226.7" font-size="7.6" text-anchor="end" font-weight="normal" fill="#111" textLength="16.2" lengthAdjust="spacingAndGlyphs">500X</text>
<rect x="423.2" y="186.3" width="56.4" height="42.2" fill="none" stroke="#666" stroke-width="1.0"/>
<text x="436.15000000000003" y="241.1" font-size="9.0" text-anchor="start" font-weight="normal" fill="#222">Rag1<tspan font-size="5.2" dy="-5.6">GFPhi</tspan></text>
<line x1="52.25" y1="309.16" x2="52.25" y2="316.76" stroke="#1b1717" stroke-width="1.1"/>
<line x1="48.45" y1="309.16" x2="56.05" y2="309.16" stroke="#1b1717" stroke-width="1.1"/>
<rect x="44.9" y="316.76" width="14.699999999999998" height="64.54000000000002" fill="#000" stroke="#000" stroke-width="0.6"/>
<line x1="52.25" y1="381.3" x2="52.25" y2="383.90000000000003" stroke="#222" stroke-width="1.0"/>
<line x1="75.45" y1="290.78" x2="75.45" y2="305.57" stroke="#1b1717" stroke-width="1.1"/>
<line x1="71.65" y1="290.78" x2="79.25" y2="290.78" stroke="#1b1717" stroke-width="1.1"/>
<rect x="67.8" y="305.57" width="15.300000000000006" height="75.73000000000002" fill="#1b1717" stroke="#1b1717" stroke-width="0.6"/>
<line x1="75.45" y1="381.3" x2="75.45" y2="383.90000000000003" stroke="#222" stroke-width="1.0"/>
<line x1="98.5" y1="301.34" x2="98.5" y2="317.82" stroke="#1b1717" stroke-width="1.1"/>
<line x1="94.7" y1="301.34" x2="102.3" y2="301.34" stroke="#1b1717" stroke-width="1.1"/>
<rect x="90.8" y="317.82" width="15.4" height="63.48000000000002" fill="#1b1717" stroke="#1b1717" stroke-width="0.6"/>
<line x1="98.5" y1="381.3" x2="98.5" y2="383.90000000000003" stroke="#222" stroke-width="1.0"/>
<line x1="40.15" y1="275.8" x2="40.15" y2="381.90000000000003" stroke="#222" stroke-width="1.3"/>
<line x1="39.55" y1="381.3" x2="109.6" y2="381.3" stroke="#222" stroke-width="1.3"/>
<line x1="37.35" y1="381.3" x2="40.15" y2="381.3" stroke="#222" stroke-width="1.1"/>
<line x1="37.35" y1="355.05" x2="40.15" y2="355.05" stroke="#222" stroke-width="1.1"/>
<line x1="37.35" y1="328.8" x2="40.15" y2="328.8" stroke="#222" stroke-width="1.1"/>
<line x1="37.35" y1="302.55" x2="40.15" y2="302.55" stroke="#222" stroke-width="1.1"/>
<line x1="37.35" y1="276.3" x2="40.15" y2="276.3" stroke="#222" stroke-width="1.1"/>
<text x="35.6" y="382.95" font-size="7.4" text-anchor="end" font-weight="bold" fill="#000">0</text>
<text x="35.6" y="356.7" font-size="7.4" text-anchor="end" font-weight="bold" fill="#000">25</text>
<text x="35.6" y="330.45" font-size="7.4" text-anchor="end" font-weight="bold" fill="#000">50</text>
<text x="35.6" y="304.2" font-size="7.4" text-anchor="end" font-weight="bold" fill="#000">75</text>
<text x="35.6" y="277.95" font-size="7.4" text-anchor="end" font-weight="bold" fill="#000">100</text>
<text x="9.0" y="319.7" font-size="9.05" text-anchor="middle" font-weight="normal" fill="#222" transform="rotate(-90 9.0 319.7)">T cell potential,</text>
<text x="18.5" y="319.7" font-size="8.95" text-anchor="middle" font-weight="normal" fill="#222" transform="rotate(-90 18.5 319.7)">% of total cells</text>
<text x="46.6" y="392.8" font-size="6.7" text-anchor="start" font-weight="normal" fill="#222">Flt3<tspan font-size="4.2" dy="-3.9">hi</tspan></text>
<text x="65.8" y="392.8" font-size="6.7" text-anchor="start" font-weight="normal" fill="#222">Rag1<tspan font-size="4.2" dy="-3.9">GFP-</tspan></text>
<text x="94.3" y="392.8" font-size="6.7" text-anchor="start" font-weight="normal" fill="#222">Rag1<tspan font-size="4.2" dy="-3.9">GFPhi</tspan></text>
<line x1="348.125" y1="312.66" x2="348.125" y2="322.52" stroke="#1b1717" stroke-width="1.1"/>
<line x1="344.325" y1="312.66" x2="351.925" y2="312.66" stroke="#1b1717" stroke-width="1.1"/>
<rect x="340.3" y="322.52" width="15.65" height="57.879999999999995" fill="#1b1717" stroke="#1b1717" stroke-width="0.6"/>
<line x1="348.125" y1="380.4" x2="348.125" y2="383.0" stroke="#222" stroke-width="1.0"/>
<line x1="372.375" y1="305.24" x2="372.375" y2="320.5" stroke="#1b1717" stroke-width="1.1"/>
<line x1="368.575" y1="305.24" x2="376.175" y2="305.24" stroke="#1b1717" stroke-width="1.1"/>
<rect x="364.55" y="320.5" width="15.65" height="59.89999999999998" fill="#1b1717" stroke="#1b1717" stroke-width="0.6"/>
<line x1="372.375" y1="380.4" x2="372.375" y2="383.0" stroke="#222" stroke-width="1.0"/>
<line x1="396.25" y1="298.88" x2="396.25" y2="308.42" stroke="#1b1717" stroke-width="1.1"/>
<line x1="392.45" y1="298.88" x2="400.05" y2="298.88" stroke="#1b1717" stroke-width="1.1"/>
<rect x="388.3" y="308.42" width="15.9" height="71.97999999999996" fill="#1b1717" stroke="#1b1717" stroke-width="0.6"/>
<line x1="396.25" y1="380.4" x2="396.25" y2="383.0" stroke="#222" stroke-width="1.0"/>
<line x1="336.9" y1="273.7" x2="336.9" y2="381.0" stroke="#222" stroke-width="1.3"/>
<line x1="336.29999999999995" y1="380.4" x2="406" y2="380.4" stroke="#222" stroke-width="1.3"/>
<line x1="333.79999999999995" y1="380.4" x2="336.9" y2="380.4" stroke="#222" stroke-width="1.1"/>
<line x1="333.79999999999995" y1="353.85" x2="336.9" y2="353.85" stroke="#222" stroke-width="1.1"/>
<line x1="333.79999999999995" y1="327.3" x2="336.9" y2="327.3" stroke="#222" stroke-width="1.1"/>
<line x1="333.79999999999995" y1="300.75" x2="336.9" y2="300.75" stroke="#222" stroke-width="1.1"/>
<line x1="333.79999999999995" y1="274.2" x2="336.9" y2="274.2" stroke="#222" stroke-width="1.1"/>
<text x="330.5" y="383.05" font-size="7.4" text-anchor="end" font-weight="bold" fill="#000">0</text>
<text x="330.5" y="356.77" font-size="7.4" text-anchor="end" font-weight="bold" fill="#000">25</text>
<text x="330.5" y="330.5" font-size="7.4" text-anchor="end" font-weight="bold" fill="#000">50</text>
<text x="330.5" y="304.22" font-size="7.4" text-anchor="end" font-weight="bold" fill="#000">75</text>
<text x="330.5" y="277.95" font-size="7.4" text-anchor="end" font-weight="bold" fill="#000">100</text>
<text x="304" y="321.2" font-size="9.05" text-anchor="middle" font-weight="normal" fill="#222" transform="rotate(-90 304 321.2)">B cell potential,</text>
<text x="313" y="321.2" font-size="8.95" text-anchor="middle" font-weight="normal" fill="#222" transform="rotate(-90 313 321.2)">% of total cells</text>
<text x="341.75" y="392.6" font-size="6.7" text-anchor="start" font-weight="normal" fill="#222">Flt3<tspan font-size="4.2" dy="-3.9">hi</tspan></text>
<text x="357.9" y="392.6" font-size="6.7" text-anchor="start" font-weight="normal" fill="#222">Rag1<tspan font-size="4.2" dy="-3.9">GFP-</tspan></text>
<text x="387" y="392.6" font-size="6.7" text-anchor="start" font-weight="normal" fill="#222">Rag1<tspan font-size="4.2" dy="-3.9">GFPhi</tspan></text>
<text x="189.6" y="313" font-size="6.9" text-anchor="start" font-weight="normal" fill="#222">PI<tspan font-size="5" dy="-3.6">-</tspan><tspan dy="3.6"> NK1.1</tspan><tspan font-size="5" dy="-3.6">-</tspan></text>
<line x1="146" y1="317.2" x2="256" y2="317.2" stroke="#777" stroke-width="1.0"/>
<rect x="136.4" y="320.8" width="55.0" height="57.099999999999966" fill="#fff" stroke="#333" stroke-width="1.2"/>
<line x1="135.8" y1="378.04999999999995" x2="192.0" y2="378.04999999999995" stroke="#2a2a2a" stroke-width="1.5"/>
<line x1="136.3" y1="320.8" x2="136.3" y2="377.9" stroke="#2a2a2a" stroke-width="1.4"/>
<line x1="138.4" y1="377.9" x2="138.4" y2="379.4" stroke="#333" stroke-width="0.5"/>
<line x1="140.7" y1="377.9" x2="140.7" y2="379.4" stroke="#333" stroke-width="0.5"/>
<line x1="143.0" y1="377.9" x2="143.0" y2="379.4" stroke="#333" stroke-width="0.5"/>
<line x1="145.3" y1="377.9" x2="145.3" y2="379.4" stroke="#333" stroke-width="0.5"/>
<line x1="147.6" y1="377.9" x2="147.6" y2="379.4" stroke="#333" stroke-width="0.5"/>
<line x1="149.9" y1="377.9" x2="149.9" y2="379.4" stroke="#333" stroke-width="0.5"/>
<line x1="152.2" y1="377.9" x2="152.2" y2="379.4" stroke="#333" stroke-width="0.5"/>
<line x1="154.5" y1="377.9" x2="154.5" y2="379.4" stroke="#333" stroke-width="0.5"/>
<line x1="156.8" y1="377.9" x2="156.8" y2="379.4" stroke="#333" stroke-width="0.5"/>
<line x1="159.1" y1="377.9" x2="159.1" y2="379.4" stroke="#333" stroke-width="0.5"/>
<line x1="161.4" y1="377.9" x2="161.4" y2="379.4" stroke="#333" stroke-width="0.5"/>
<line x1="163.7" y1="377.9" x2="163.7" y2="379.4" stroke="#333" stroke-width="0.5"/>
<line x1="166.0" y1="377.9" x2="166.0" y2="379.4" stroke="#333" stroke-width="0.5"/>
<line x1="168.3" y1="377.9" x2="168.3" y2="379.4" stroke="#333" stroke-width="0.5"/>
<line x1="170.6" y1="377.9" x2="170.6" y2="379.4" stroke="#333" stroke-width="0.5"/>
<line x1="172.9" y1="377.9" x2="172.9" y2="379.4" stroke="#333" stroke-width="0.5"/>
<line x1="175.2" y1="377.9" x2="175.2" y2="379.4" stroke="#333" stroke-width="0.5"/>
<line x1="177.5" y1="377.9" x2="177.5" y2="379.4" stroke="#333" stroke-width="0.5"/>
<line x1="179.8" y1="377.9" x2="179.8" y2="379.4" stroke="#333" stroke-width="0.5"/>
<line x1="182.1" y1="377.9" x2="182.1" y2="379.4" stroke="#333" stroke-width="0.5"/>
<line x1="184.4" y1="377.9" x2="184.4" y2="379.4" stroke="#333" stroke-width="0.5"/>
<line x1="186.7" y1="377.9" x2="186.7" y2="379.4" stroke="#333" stroke-width="0.5"/>
<line x1="189.0" y1="377.9" x2="189.0" y2="379.4" stroke="#333" stroke-width="0.5"/>
<text x="124.2" y="348.5" font-size="7.0" text-anchor="middle" font-weight="normal" fill="#222" transform="rotate(-90 124.2 348.5)">Thy1.2</text>
<text x="163.9" y="394.8" font-size="7" text-anchor="middle" font-weight="normal" fill="#222">CD25</text>
<text x="142" y="384.5" font-size="4.1" text-anchor="middle" font-weight="normal" fill="#111">0</text>
<text x="150.5" y="384.5" font-size="4.1" text-anchor="middle" font-weight="normal" fill="#111">10<tspan font-size="2.6" dy="-1.6">2</tspan></text>
<text x="162.5" y="384.5" font-size="4.1" text-anchor="middle" font-weight="normal" fill="#111">10<tspan font-size="2.6" dy="-1.6">3</tspan></text>
<text x="175" y="384.5" font-size="4.1" text-anchor="middle" font-weight="normal" fill="#111">10<tspan font-size="2.6" dy="-1.6">4</tspan></text>
<text x="188" y="384.5" font-size="4.1" text-anchor="middle" font-weight="normal" fill="#111">10<tspan font-size="2.6" dy="-1.6">5</tspan></text>
<text x="133.5" y="325.5" font-size="4.1" text-anchor="end" font-weight="normal" fill="#111">10<tspan font-size="2.6" dy="-1.6">5</tspan></text>
<text x="133.5" y="338.5" font-size="4.1" text-anchor="end" font-weight="normal" fill="#111">10<tspan font-size="2.6" dy="-1.6">4</tspan></text>
<text x="133.5" y="351.5" font-size="4.1" text-anchor="end" font-weight="normal" fill="#111">10<tspan font-size="2.6" dy="-1.6">3</tspan></text>
<text x="133.5" y="364.5" font-size="4.1" text-anchor="end" font-weight="normal" fill="#111">10<tspan font-size="2.6" dy="-1.6">2</tspan></text>
<text x="133.5" y="374.5" font-size="4.1" text-anchor="end" font-weight="normal" fill="#111">0</text>
<rect x="216.4" y="320.1" width="56.99999999999997" height="56.599999999999966" fill="#fff" stroke="#333" stroke-width="1.2"/>
<line x1="215.8" y1="376.84999999999997" x2="274.0" y2="376.84999999999997" stroke="#2a2a2a" stroke-width="1.5"/>
<line x1="216.3" y1="320.1" x2="216.3" y2="376.7" stroke="#2a2a2a" stroke-width="1.4"/>
<line x1="218.4" y1="376.7" x2="218.4" y2="378.2" stroke="#333" stroke-width="0.5"/>
<line x1="220.7" y1="376.7" x2="220.7" y2="378.2" stroke="#333" stroke-width="0.5"/>
<line x1="223.0" y1="376.7" x2="223.0" y2="378.2" stroke="#333" stroke-width="0.5"/>
<line x1="225.3" y1="376.7" x2="225.3" y2="378.2" stroke="#333" stroke-width="0.5"/>
<line x1="227.6" y1="376.7" x2="227.6" y2="378.2" stroke="#333" stroke-width="0.5"/>
<line x1="229.9" y1="376.7" x2="229.9" y2="378.2" stroke="#333" stroke-width="0.5"/>
<line x1="232.2" y1="376.7" x2="232.2" y2="378.2" stroke="#333" stroke-width="0.5"/>
<line x1="234.5" y1="376.7" x2="234.5" y2="378.2" stroke="#333" stroke-width="0.5"/>
<line x1="236.8" y1="376.7" x2="236.8" y2="378.2" stroke="#333" stroke-width="0.5"/>
<line x1="239.1" y1="376.7" x2="239.1" y2="378.2" stroke="#333" stroke-width="0.5"/>
<line x1="241.4" y1="376.7" x2="241.4" y2="378.2" stroke="#333" stroke-width="0.5"/>
<line x1="243.7" y1="376.7" x2="243.7" y2="378.2" stroke="#333" stroke-width="0.5"/>
<line x1="246.0" y1="376.7" x2="246.0" y2="378.2" stroke="#333" stroke-width="0.5"/>
<line x1="248.3" y1="376.7" x2="248.3" y2="378.2" stroke="#333" stroke-width="0.5"/>
<line x1="250.6" y1="376.7" x2="250.6" y2="378.2" stroke="#333" stroke-width="0.5"/>
<line x1="252.9" y1="376.7" x2="252.9" y2="378.2" stroke="#333" stroke-width="0.5"/>
<line x1="255.2" y1="376.7" x2="255.2" y2="378.2" stroke="#333" stroke-width="0.5"/>
<line x1="257.5" y1="376.7" x2="257.5" y2="378.2" stroke="#333" stroke-width="0.5"/>
<line x1="259.8" y1="376.7" x2="259.8" y2="378.2" stroke="#333" stroke-width="0.5"/>
<line x1="262.1" y1="376.7" x2="262.1" y2="378.2" stroke="#333" stroke-width="0.5"/>
<line x1="264.4" y1="376.7" x2="264.4" y2="378.2" stroke="#333" stroke-width="0.5"/>
<line x1="266.7" y1="376.7" x2="266.7" y2="378.2" stroke="#333" stroke-width="0.5"/>
<line x1="269.0" y1="376.7" x2="269.0" y2="378.2" stroke="#333" stroke-width="0.5"/>
<line x1="271.3" y1="376.7" x2="271.3" y2="378.2" stroke="#333" stroke-width="0.5"/>
<text x="206" y="346.2" font-size="7.4" text-anchor="middle" font-weight="normal" fill="#222" transform="rotate(-90 206 346.2)">CD4</text>
<text x="244.89999999999998" y="394.8" font-size="7" text-anchor="middle" font-weight="normal" fill="#222">CD8a</text>
<text x="222" y="384.5" font-size="4.1" text-anchor="middle" font-weight="normal" fill="#111">0</text>
<text x="231" y="384.5" font-size="4.1" text-anchor="middle" font-weight="normal" fill="#111">10<tspan font-size="2.6" dy="-1.6">2</tspan></text>
<text x="243" y="384.5" font-size="4.1" text-anchor="middle" font-weight="normal" fill="#111">10<tspan font-size="2.6" dy="-1.6">3</tspan></text>
<text x="255.5" y="384.5" font-size="4.1" text-anchor="middle" font-weight="normal" fill="#111">10<tspan font-size="2.6" dy="-1.6">4</tspan></text>
<text x="268" y="384.5" font-size="4.1" text-anchor="middle" font-weight="normal" fill="#111">10<tspan font-size="2.6" dy="-1.6">5</tspan></text>
<text x="213.5" y="325" font-size="4.1" text-anchor="end" font-weight="normal" fill="#111">10<tspan font-size="2.6" dy="-1.6">5</tspan></text>
<text x="213.5" y="338" font-size="4.1" text-anchor="end" font-weight="normal" fill="#111">10<tspan font-size="2.6" dy="-1.6">4</tspan></text>
<text x="213.5" y="351" font-size="4.1" text-anchor="end" font-weight="normal" fill="#111">10<tspan font-size="2.6" dy="-1.6">3</tspan></text>
<text x="213.5" y="364" font-size="4.1" text-anchor="end" font-weight="normal" fill="#111">10<tspan font-size="2.6" dy="-1.6">2</tspan></text>
<text x="213.5" y="374" font-size="4.1" text-anchor="end" font-weight="normal" fill="#111">0</text>
<text x="454.2" y="315.2" font-size="6.7" text-anchor="start" font-weight="normal" fill="#222">PI<tspan font-size="5" dy="-3.4">-</tspan></text>
<rect x="431.9" y="320.9" width="50.30000000000001" height="45.400000000000034" fill="#fff" stroke="#333" stroke-width="1.2"/>
<line x1="431.29999999999995" y1="366.45" x2="482.8" y2="366.45" stroke="#2a2a2a" stroke-width="1.5"/>
<line x1="431.79999999999995" y1="320.9" x2="431.79999999999995" y2="366.3" stroke="#2a2a2a" stroke-width="1.4"/>
<line x1="433.9" y1="366.3" x2="433.9" y2="367.8" stroke="#333" stroke-width="0.5"/>
<line x1="436.2" y1="366.3" x2="436.2" y2="367.8" stroke="#333" stroke-width="0.5"/>
<line x1="438.5" y1="366.3" x2="438.5" y2="367.8" stroke="#333" stroke-width="0.5"/>
<line x1="440.8" y1="366.3" x2="440.8" y2="367.8" stroke="#333" stroke-width="0.5"/>
<line x1="443.1" y1="366.3" x2="443.1" y2="367.8" stroke="#333" stroke-width="0.5"/>
<line x1="445.4" y1="366.3" x2="445.4" y2="367.8" stroke="#333" stroke-width="0.5"/>
<line x1="447.7" y1="366.3" x2="447.7" y2="367.8" stroke="#333" stroke-width="0.5"/>
<line x1="450.0" y1="366.3" x2="450.0" y2="367.8" stroke="#333" stroke-width="0.5"/>
<line x1="452.3" y1="366.3" x2="452.3" y2="367.8" stroke="#333" stroke-width="0.5"/>
<line x1="454.6" y1="366.3" x2="454.6" y2="367.8" stroke="#333" stroke-width="0.5"/>
<line x1="456.9" y1="366.3" x2="456.9" y2="367.8" stroke="#333" stroke-width="0.5"/>
<line x1="459.2" y1="366.3" x2="459.2" y2="367.8" stroke="#333" stroke-width="0.5"/>
<line x1="461.5" y1="366.3" x2="461.5" y2="367.8" stroke="#333" stroke-width="0.5"/>
<line x1="463.8" y1="366.3" x2="463.8" y2="367.8" stroke="#333" stroke-width="0.5"/>
<line x1="466.1" y1="366.3" x2="466.1" y2="367.8" stroke="#333" stroke-width="0.5"/>
<line x1="468.4" y1="366.3" x2="468.4" y2="367.8" stroke="#333" stroke-width="0.5"/>
<line x1="470.7" y1="366.3" x2="470.7" y2="367.8" stroke="#333" stroke-width="0.5"/>
<line x1="473.0" y1="366.3" x2="473.0" y2="367.8" stroke="#333" stroke-width="0.5"/>
<line x1="475.3" y1="366.3" x2="475.3" y2="367.8" stroke="#333" stroke-width="0.5"/>
<line x1="477.6" y1="366.3" x2="477.6" y2="367.8" stroke="#333" stroke-width="0.5"/>
<line x1="479.9" y1="366.3" x2="479.9" y2="367.8" stroke="#333" stroke-width="0.5"/>
<text x="421.2" y="342.8" font-size="7.0" text-anchor="middle" font-weight="normal" fill="#222" transform="rotate(-90 421.2 342.8)">B220</text>
<text x="457.04999999999995" y="384.4" font-size="7" text-anchor="middle" font-weight="normal" fill="#222">CD19</text>
<text x="438" y="375" font-size="4.1" text-anchor="middle" font-weight="normal" fill="#111">0</text>
<text x="444.5" y="375" font-size="4.1" text-anchor="middle" font-weight="normal" fill="#111">10<tspan font-size="2.6" dy="-1.6">2</tspan></text>
<text x="456" y="375" font-size="4.1" text-anchor="middle" font-weight="normal" fill="#111">10<tspan font-size="2.6" dy="-1.6">3</tspan></text>
<text x="467.5" y="375" font-size="4.1" text-anchor="middle" font-weight="normal" fill="#111">10<tspan font-size="2.6" dy="-1.6">4</tspan></text>
<text x="478.5" y="375" font-size="4.1" text-anchor="middle" font-weight="normal" fill="#111">10<tspan font-size="2.6" dy="-1.6">5</tspan></text>
<text x="429" y="324" font-size="4.1" text-anchor="end" font-weight="normal" fill="#111">10<tspan font-size="2.6" dy="-1.6">5</tspan></text>
<text x="429" y="335" font-size="4.1" text-anchor="end" font-weight="normal" fill="#111">10<tspan font-size="2.6" dy="-1.6">4</tspan></text>
<text x="429" y="346" font-size="4.1" text-anchor="end" font-weight="normal" fill="#111">10<tspan font-size="2.6" dy="-1.6">3</tspan></text>
<text x="429" y="357" font-size="4.1" text-anchor="end" font-weight="normal" fill="#111">10<tspan font-size="2.6" dy="-1.6">2</tspan></text>
<text x="429" y="363.5" font-size="4.1" text-anchor="end" font-weight="normal" fill="#111">0</text>
<g filter="url(#b1)">
<ellipse cx="150" cy="334.9" rx="11" ry="1.3" fill="#d5d6f2" opacity="0.75"/>
<ellipse cx="164" cy="334.8" rx="9" ry="1.7" fill="#9aa6d6" opacity="0.7"/>
<ellipse cx="166.5" cy="334.9" rx="5.2" ry="1.5" fill="#5d7f9c" opacity="0.8"/>
<ellipse cx="179.2" cy="338.7" rx="3.2" ry="3.4" fill="#a9b3e3" opacity="0.7"/>
<ellipse cx="179.2" cy="338.7" rx="1.6" ry="1.8" fill="#5f86b0" opacity="0.85"/>
</g>
<circle cx="159.5" cy="335.6" r="0.4" fill="#3f5f7f" opacity="0.5"/>
<circle cx="163.2" cy="335.6" r="0.4" fill="#3f5f7f" opacity="0.5"/>
<circle cx="161.7" cy="336.6" r="0.4" fill="#3f5f7f" opacity="0.5"/>
<circle cx="171.3" cy="335.2" r="0.4" fill="#3f5f7f" opacity="0.5"/>
<circle cx="164.1" cy="335.1" r="0.4" fill="#3f5f7f" opacity="0.5"/>
<circle cx="161.6" cy="336.3" r="0.4" fill="#3f5f7f" opacity="0.5"/>
<circle cx="163.2" cy="335.0" r="0.4" fill="#3f5f7f" opacity="0.5"/>
<circle cx="173.8" cy="334.8" r="0.4" fill="#3f5f7f" opacity="0.5"/>
<circle cx="167.3" cy="334.9" r="0.4" fill="#3f5f7f" opacity="0.5"/>
<circle cx="164.9" cy="335.3" r="0.4" fill="#3f5f7f" opacity="0.5"/>
<circle cx="165.7" cy="334.1" r="0.4" fill="#3f5f7f" opacity="0.5"/>
<circle cx="168.6" cy="335.8" r="0.4" fill="#3f5f7f" opacity="0.5"/>
<circle cx="172.8" cy="333.9" r="0.4" fill="#3f5f7f" opacity="0.5"/>
<circle cx="164.8" cy="335.6" r="0.4" fill="#3f5f7f" opacity="0.5"/>
<circle cx="170.7" cy="334.3" r="0.4" fill="#3f5f7f" opacity="0.5"/>
<circle cx="164.3" cy="334.5" r="0.4" fill="#3f5f7f" opacity="0.5"/>
<circle cx="172.1" cy="335.6" r="0.4" fill="#3f5f7f" opacity="0.5"/>
<circle cx="163.3" cy="335.2" r="0.4" fill="#3f5f7f" opacity="0.5"/>
<circle cx="171.6" cy="334.4" r="0.4" fill="#3f5f7f" opacity="0.5"/>
<circle cx="165.7" cy="334.6" r="0.4" fill="#3f5f7f" opacity="0.5"/>
<circle cx="166.1" cy="334.7" r="0.4" fill="#3f5f7f" opacity="0.5"/>
<circle cx="168.6" cy="334.1" r="0.4" fill="#3f5f7f" opacity="0.5"/>
<circle cx="161.6" cy="336.2" r="0.4" fill="#3f5f7f" opacity="0.5"/>
<circle cx="168.5" cy="334.6" r="0.4" fill="#3f5f7f" opacity="0.5"/>
<circle cx="169.2" cy="336.0" r="0.4" fill="#3f5f7f" opacity="0.5"/>
<circle cx="165.2" cy="335.5" r="0.4" fill="#3f5f7f" opacity="0.5"/>
<circle cx="179.5" cy="339.2" r="0.4" fill="#4f6f9f" opacity="0.5"/>
<circle cx="179.7" cy="340.4" r="0.4" fill="#4f6f9f" opacity="0.5"/>
<circle cx="178.2" cy="341.9" r="0.4" fill="#4f6f9f" opacity="0.5"/>
<circle cx="178.7" cy="341.0" r="0.4" fill="#4f6f9f" opacity="0.5"/>
<circle cx="179.9" cy="340.4" r="0.4" fill="#4f6f9f" opacity="0.5"/>
<circle cx="180.6" cy="338.9" r="0.4" fill="#4f6f9f" opacity="0.5"/>
<circle cx="182.1" cy="339.0" r="0.4" fill="#4f6f9f" opacity="0.5"/>
<circle cx="178.1" cy="338.3" r="0.4" fill="#4f6f9f" opacity="0.5"/>
<circle cx="175.0" cy="339.4" r="0.4" fill="#4f6f9f" opacity="0.5"/>
<circle cx="181.8" cy="341.0" r="0.4" fill="#4f6f9f" opacity="0.5"/>
<circle cx="177.3" cy="339.7" r="0.4" fill="#4f6f9f" opacity="0.5"/>
<circle cx="180.1" cy="337.0" r="0.4" fill="#4f6f9f" opacity="0.5"/>
<circle cx="176.5" cy="338.6" r="0.4" fill="#4f6f9f" opacity="0.5"/>
<circle cx="180.8" cy="338.5" r="0.4" fill="#4f6f9f" opacity="0.5"/>
<rect x="174.5" y="333.7" width="11.6" height="10.4" fill="none" stroke="#c52fc5" stroke-width="1.5"/>
<g filter="url(#b1)">
<ellipse cx="260.6" cy="327.8" rx="4.4" ry="2.1" fill="#93a3e0" opacity="0.8"/>
<ellipse cx="261" cy="327.8" rx="2.4" ry="1.1" fill="#4f76a8" opacity="0.85"/>
<ellipse cx="250.5" cy="328.2" rx="2.6" ry="1.5" fill="#b7c1ea" opacity="0.7"/>
<ellipse cx="248.6" cy="352" rx="4" ry="14" fill="#ececfa" opacity="0.5"/>
</g>
<circle cx="251.8" cy="334.7" r="0.42" fill="#a9afe6" opacity="0.45"/>
<circle cx="245.7" cy="341.8" r="0.42" fill="#a9afe6" opacity="0.45"/>
<circle cx="247.7" cy="354.3" r="0.42" fill="#a9afe6" opacity="0.45"/>
<circle cx="249.6" cy="354.3" r="0.42" fill="#a9afe6" opacity="0.45"/>
<circle cx="248.3" cy="341.8" r="0.42" fill="#a9afe6" opacity="0.45"/>
<circle cx="249.4" cy="355.3" r="0.42" fill="#a9afe6" opacity="0.45"/>
<circle cx="253.1" cy="330.6" r="0.42" fill="#a9afe6" opacity="0.45"/>
<circle cx="246.9" cy="342.4" r="0.42" fill="#a9afe6" opacity="0.45"/>
<circle cx="248.7" cy="361.0" r="0.42" fill="#a9afe6" opacity="0.45"/>
<circle cx="246.1" cy="352.8" r="0.42" fill="#a9afe6" opacity="0.45"/>
<circle cx="245.4" cy="354.1" r="0.42" fill="#a9afe6" opacity="0.45"/>
<circle cx="259.4" cy="343.3" r="0.42" fill="#a9afe6" opacity="0.45"/>
<circle cx="245.5" cy="348.4" r="0.42" fill="#a9afe6" opacity="0.45"/>
<circle cx="252.0" cy="348.8" r="0.42" fill="#a9afe6" opacity="0.45"/>
<circle cx="248.4" cy="351.4" r="0.42" fill="#a9afe6" opacity="0.45"/>
<circle cx="245.0" cy="360.2" r="0.42" fill="#a9afe6" opacity="0.45"/>
<circle cx="245.7" cy="350.9" r="0.42" fill="#a9afe6" opacity="0.45"/>
<circle cx="248.1" cy="351.0" r="0.42" fill="#a9afe6" opacity="0.45"/>
<circle cx="248.3" cy="356.2" r="0.42" fill="#a9afe6" opacity="0.45"/>
<circle cx="247.5" cy="353.1" r="0.42" fill="#a9afe6" opacity="0.45"/>
<circle cx="252.0" cy="352.4" r="0.42" fill="#a9afe6" opacity="0.45"/>
<circle cx="249.1" cy="366.8" r="0.42" fill="#a9afe6" opacity="0.45"/>
<circle cx="241.6" cy="347.4" r="0.42" fill="#a9afe6" opacity="0.45"/>
<circle cx="244.8" cy="335.1" r="0.42" fill="#a9afe6" opacity="0.45"/>
<circle cx="251.5" cy="342.8" r="0.42" fill="#a9afe6" opacity="0.45"/>
<circle cx="252.5" cy="366.5" r="0.42" fill="#a9afe6" opacity="0.45"/>
<circle cx="247.7" cy="348.2" r="0.42" fill="#a9afe6" opacity="0.45"/>
<circle cx="253.0" cy="329.2" r="0.42" fill="#a9afe6" opacity="0.45"/>
<circle cx="243.7" cy="337.0" r="0.42" fill="#a9afe6" opacity="0.45"/>
<circle cx="249.4" cy="344.9" r="0.42" fill="#a9afe6" opacity="0.45"/>
<circle cx="243.6" cy="348.9" r="0.42" fill="#a9afe6" opacity="0.45"/>
<circle cx="252.4" cy="332.3" r="0.42" fill="#a9afe6" opacity="0.45"/>
<circle cx="251.1" cy="336.9" r="0.42" fill="#a9afe6" opacity="0.45"/>
<circle cx="253.5" cy="339.7" r="0.42" fill="#a9afe6" opacity="0.45"/>
<circle cx="247.4" cy="342.9" r="0.42" fill="#a9afe6" opacity="0.45"/>
<circle cx="250.7" cy="352.2" r="0.42" fill="#a9afe6" opacity="0.45"/>
<circle cx="247.2" cy="355.3" r="0.42" fill="#a9afe6" opacity="0.45"/>
<circle cx="251.3" cy="337.8" r="0.42" fill="#a9afe6" opacity="0.45"/>
<circle cx="244.4" cy="338.9" r="0.42" fill="#a9afe6" opacity="0.45"/>
<circle cx="246.4" cy="338.4" r="0.42" fill="#a9afe6" opacity="0.45"/>
<circle cx="256.0" cy="351.4" r="0.42" fill="#a9afe6" opacity="0.45"/>
<circle cx="248.4" cy="336.8" r="0.42" fill="#a9afe6" opacity="0.45"/>
<circle cx="242.5" cy="347.1" r="0.42" fill="#a9afe6" opacity="0.45"/>
<circle cx="254.8" cy="358.9" r="0.42" fill="#a9afe6" opacity="0.45"/>
<circle cx="248.5" cy="355.7" r="0.42" fill="#a9afe6" opacity="0.45"/>
<circle cx="247.8" cy="370.3" r="0.42" fill="#a9afe6" opacity="0.45"/>
<circle cx="250.4" cy="369.9" r="0.42" fill="#a9afe6" opacity="0.45"/>
<circle cx="253.3" cy="348.9" r="0.42" fill="#a9afe6" opacity="0.45"/>
<circle cx="245.0" cy="360.2" r="0.42" fill="#a9afe6" opacity="0.45"/>
<circle cx="245.6" cy="332.3" r="0.42" fill="#a9afe6" opacity="0.45"/>
<circle cx="244.0" cy="339.5" r="0.42" fill="#a9afe6" opacity="0.45"/>
<circle cx="250.6" cy="354.2" r="0.42" fill="#a9afe6" opacity="0.45"/>
<circle cx="248.3" cy="370.8" r="0.42" fill="#a9afe6" opacity="0.45"/>
<circle cx="246.7" cy="365.6" r="0.42" fill="#a9afe6" opacity="0.45"/>
<circle cx="250.0" cy="351.3" r="0.42" fill="#a9afe6" opacity="0.45"/>
<circle cx="247.8" cy="368.8" r="0.42" fill="#a9afe6" opacity="0.45"/>
<circle cx="246.3" cy="334.2" r="0.42" fill="#a9afe6" opacity="0.45"/>
<circle cx="247.2" cy="365.0" r="0.42" fill="#a9afe6" opacity="0.45"/>
<circle cx="243.9" cy="354.0" r="0.42" fill="#a9afe6" opacity="0.45"/>
<circle cx="255.0" cy="368.2" r="0.42" fill="#a9afe6" opacity="0.45"/>
<circle cx="249.2" cy="350.1" r="0.42" fill="#a9afe6" opacity="0.45"/>
<circle cx="241.0" cy="356.7" r="0.42" fill="#a9afe6" opacity="0.45"/>
<circle cx="253.0" cy="348.4" r="0.42" fill="#a9afe6" opacity="0.45"/>
<circle cx="248.2" cy="359.2" r="0.42" fill="#a9afe6" opacity="0.45"/>
<circle cx="251.2" cy="348.2" r="0.42" fill="#a9afe6" opacity="0.45"/>
<circle cx="246.5" cy="347.8" r="0.42" fill="#a9afe6" opacity="0.45"/>
<circle cx="238.2" cy="346.5" r="0.42" fill="#a9afe6" opacity="0.45"/>
<circle cx="253.7" cy="367.5" r="0.42" fill="#a9afe6" opacity="0.45"/>
<circle cx="239.7" cy="349.6" r="0.42" fill="#a9afe6" opacity="0.45"/>
<circle cx="247.6" cy="342.7" r="0.42" fill="#a9afe6" opacity="0.45"/>
<circle cx="252.4" cy="342.7" r="0.42" fill="#a9afe6" opacity="0.45"/>
<circle cx="248.9" cy="351.2" r="0.42" fill="#a9afe6" opacity="0.45"/>
<circle cx="243.9" cy="351.7" r="0.42" fill="#a9afe6" opacity="0.45"/>
<circle cx="247.8" cy="357.3" r="0.42" fill="#a9afe6" opacity="0.45"/>
<circle cx="246.5" cy="359.7" r="0.42" fill="#a9afe6" opacity="0.45"/>
<circle cx="248.6" cy="350.4" r="0.42" fill="#a9afe6" opacity="0.45"/>
<circle cx="248.5" cy="328.1" r="0.42" fill="#a9afe6" opacity="0.45"/>
<circle cx="255.5" cy="369.8" r="0.42" fill="#a9afe6" opacity="0.45"/>
<rect x="255" y="323.5" width="12.3" height="9.6" fill="none" stroke="#c52fc5" stroke-width="1.5"/>
<line x1="457.4" y1="321.5" x2="457.4" y2="366" stroke="#e88be8" stroke-width="1.0"/>
<line x1="432.5" y1="345.7" x2="481.8" y2="345.7" stroke="#e88be8" stroke-width="1.0"/>
<g filter="url(#b1)">
<ellipse cx="470.4" cy="329.6" rx="4.6" ry="3.0" fill="#8fcfe2" opacity="0.8" transform="rotate(-38 470.4 329.6)"/>
<ellipse cx="470.6" cy="329.4" rx="3.1" ry="1.8" fill="#45a79c" opacity="0.95" transform="rotate(-38 470.6 329.4)"/>
</g>
<rect x="464.1" y="323.6" width="12.4" height="13.8" fill="none" stroke="#c52fc5" stroke-width="1.4"/>
<line x1="46.4" y1="496.44" x2="46.4" y2="515.59" stroke="#000" stroke-width="1.0"/>
<line x1="44.199999999999996" y1="496.44" x2="48.6" y2="496.44" stroke="#000" stroke-width="1.0"/>
<rect x="42.4" y="515.59" width="8" height="53.20999999999992" fill="#dcdcdc" stroke="#1e1e1e" stroke-width="1.15"/>
<line x1="46.4" y1="568.8" x2="46.4" y2="571.8" stroke="#000" stroke-width="1.0"/>
<line x1="59.4" y1="502.12" x2="59.4" y2="529.78" stroke="#000" stroke-width="1.0"/>
<line x1="57.199999999999996" y1="502.12" x2="61.6" y2="502.12" stroke="#000" stroke-width="1.0"/>
<rect x="55.4" y="529.78" width="8" height="39.01999999999998" fill="#fff" stroke="#1e1e1e" stroke-width="1.15"/>
<line x1="59.4" y1="568.8" x2="59.4" y2="571.8" stroke="#000" stroke-width="1.0"/>
<line x1="72.4" y1="503.54" x2="72.4" y2="526.24" stroke="#000" stroke-width="1.0"/>
<line x1="70.2" y1="503.54" x2="74.60000000000001" y2="503.54" stroke="#000" stroke-width="1.0"/>
<rect x="68.4" y="526.24" width="8" height="42.559999999999945" fill="#000" stroke="#1e1e1e" stroke-width="1.15"/>
<line x1="72.4" y1="568.8" x2="72.4" y2="571.8" stroke="#000" stroke-width="1.0"/>
<text x="59.3" y="586.5" font-size="10.6" text-anchor="middle" font-weight="normal" fill="#1a1a1a">3 weeks</text>
<line x1="97.8" y1="525.53" x2="97.8" y2="538.3" stroke="#000" stroke-width="1.0"/>
<line x1="95.6" y1="525.53" x2="100.0" y2="525.53" stroke="#000" stroke-width="1.0"/>
<rect x="93.8" y="538.3" width="8" height="30.5" fill="#dcdcdc" stroke="#1e1e1e" stroke-width="1.15"/>
<line x1="97.8" y1="568.8" x2="97.8" y2="571.8" stroke="#000" stroke-width="1.0"/>
<line x1="110.8" y1="514.18" x2="110.8" y2="534.75" stroke="#000" stroke-width="1.0"/>
<line x1="108.6" y1="514.18" x2="113.0" y2="514.18" stroke="#000" stroke-width="1.0"/>
<rect x="106.8" y="534.75" width="8" height="34.049999999999955" fill="#fff" stroke="#1e1e1e" stroke-width="1.15"/>
<line x1="110.8" y1="568.8" x2="110.8" y2="571.8" stroke="#000" stroke-width="1.0"/>
<line x1="123.8" y1="451.75" x2="123.8" y2="506.37" stroke="#000" stroke-width="1.0"/>
<line x1="121.6" y1="451.75" x2="126.0" y2="451.75" stroke="#000" stroke-width="1.0"/>
<rect x="119.8" y="506.37" width="8" height="62.42999999999995" fill="#000" stroke="#1e1e1e" stroke-width="1.15"/>
<line x1="123.8" y1="568.8" x2="123.8" y2="571.8" stroke="#000" stroke-width="1.0"/>
<text x="110.5" y="586.5" font-size="10.6" text-anchor="middle" font-weight="normal" fill="#1a1a1a">6 weeks</text>
<line x1="149.7" y1="535.46" x2="149.7" y2="546.1" stroke="#000" stroke-width="1.0"/>
<line x1="147.5" y1="535.46" x2="151.89999999999998" y2="535.46" stroke="#000" stroke-width="1.0"/>
<rect x="145.7" y="546.1" width="8" height="22.699999999999932" fill="#dcdcdc" stroke="#1e1e1e" stroke-width="1.15"/>
<line x1="149.7" y1="568.8" x2="149.7" y2="571.8" stroke="#000" stroke-width="1.0"/>
<line x1="162.7" y1="537.59" x2="162.7" y2="548.23" stroke="#000" stroke-width="1.0"/>
<line x1="160.5" y1="537.59" x2="164.89999999999998" y2="537.59" stroke="#000" stroke-width="1.0"/>
<rect x="158.7" y="548.23" width="8" height="20.569999999999936" fill="#fff" stroke="#1e1e1e" stroke-width="1.15"/>
<line x1="162.7" y1="568.8" x2="162.7" y2="571.8" stroke="#000" stroke-width="1.0"/>
<line x1="175.7" y1="496.44" x2="175.7" y2="529.07" stroke="#000" stroke-width="1.0"/>
<line x1="173.5" y1="496.44" x2="177.89999999999998" y2="496.44" stroke="#000" stroke-width="1.0"/>
<rect x="171.7" y="529.07" width="8" height="39.729999999999905" fill="#000" stroke="#1e1e1e" stroke-width="1.15"/>
<line x1="175.7" y1="568.8" x2="175.7" y2="571.8" stroke="#000" stroke-width="1.0"/>
<text x="162" y="586.5" font-size="10.6" text-anchor="middle" font-weight="normal" fill="#1a1a1a">9 weeks</text>
<line x1="201" y1="544.68" x2="201" y2="553.19" stroke="#000" stroke-width="1.0"/>
<line x1="198.8" y1="544.68" x2="203.2" y2="544.68" stroke="#000" stroke-width="1.0"/>
<rect x="197" y="553.19" width="8" height="15.6099999999999" fill="#dcdcdc" stroke="#1e1e1e" stroke-width="1.15"/>
<line x1="201" y1="568.8" x2="201" y2="571.8" stroke="#000" stroke-width="1.0"/>
<line x1="214" y1="549.29" x2="214" y2="556.74" stroke="#000" stroke-width="1.0"/>
<line x1="211.8" y1="549.29" x2="216.2" y2="549.29" stroke="#000" stroke-width="1.0"/>
<rect x="210" y="556.74" width="8" height="12.059999999999945" fill="#fff" stroke="#1e1e1e" stroke-width="1.15"/>
<line x1="214" y1="568.8" x2="214" y2="571.8" stroke="#000" stroke-width="1.0"/>
<line x1="227" y1="507.79" x2="227" y2="539.01" stroke="#000" stroke-width="1.0"/>
<line x1="224.8" y1="507.79" x2="229.2" y2="507.79" stroke="#000" stroke-width="1.0"/>
<rect x="223" y="539.01" width="8" height="29.789999999999964" fill="#000" stroke="#1e1e1e" stroke-width="1.15"/>
<line x1="227" y1="568.8" x2="227" y2="571.8" stroke="#000" stroke-width="1.0"/>
<text x="213.8" y="586.5" font-size="10.6" text-anchor="middle" font-weight="normal" fill="#1a1a1a">12 weeks</text>
<line x1="40.5" y1="440.61" x2="40.5" y2="569.4" stroke="#222" stroke-width="1.25"/>
<line x1="39.9" y1="568.8" x2="233" y2="568.8" stroke="#222" stroke-width="1.25"/>
<line x1="36.3" y1="568.8" x2="40.5" y2="568.8" stroke="#222" stroke-width="1.1"/>
<line x1="36.3" y1="554.61" x2="40.5" y2="554.61" stroke="#222" stroke-width="1.1"/>
<line x1="36.3" y1="540.42" x2="40.5" y2="540.42" stroke="#222" stroke-width="1.1"/>
<line x1="36.3" y1="526.24" x2="40.5" y2="526.24" stroke="#222" stroke-width="1.1"/>
<line x1="36.3" y1="512.05" x2="40.5" y2="512.05" stroke="#222" stroke-width="1.1"/>
<line x1="36.3" y1="497.86" x2="40.5" y2="497.86" stroke="#222" stroke-width="1.1"/>
<line x1="36.3" y1="483.67" x2="40.5" y2="483.67" stroke="#222" stroke-width="1.1"/>
<line x1="36.3" y1="469.48" x2="40.5" y2="469.48" stroke="#222" stroke-width="1.1"/>
<line x1="36.3" y1="455.3" x2="40.5" y2="455.3" stroke="#222" stroke-width="1.1"/>
<line x1="36.3" y1="441.11" x2="40.5" y2="441.11" stroke="#222" stroke-width="1.1"/>
<text x="32.3" y="572.52" font-size="7.6" text-anchor="end" font-weight="bold" fill="#000">0</text>
<text x="32.3" y="557.8" font-size="7.6" text-anchor="end" font-weight="bold" fill="#000">2</text>
<text x="32.3" y="543.08" font-size="7.6" text-anchor="end" font-weight="bold" fill="#000">4</text>
<text x="32.3" y="528.36" font-size="7.6" text-anchor="end" font-weight="bold" fill="#000">6</text>
<text x="32.3" y="513.64" font-size="7.6" text-anchor="end" font-weight="bold" fill="#000">8</text>
<text x="32.3" y="498.92" font-size="7.6" text-anchor="end" font-weight="bold" fill="#000">10</text>
<text x="32.3" y="484.2" font-size="7.6" text-anchor="end" font-weight="bold" fill="#000">12</text>
<text x="32.3" y="469.48" font-size="7.6" text-anchor="end" font-weight="bold" fill="#000">14</text>
<text x="32.3" y="454.76" font-size="7.6" text-anchor="end" font-weight="bold" fill="#000">16</text>
<text x="32.3" y="440.04" font-size="7.6" text-anchor="end" font-weight="bold" fill="#000">18</text>
<text x="7.8" y="508.1" font-size="8.7" text-anchor="middle" font-weight="normal" fill="#333" transform="rotate(-90 7.8 508.1)">Total donor</text>
<text x="18.2" y="508.1" font-size="8.9" text-anchor="middle" font-weight="normal" fill="#333" transform="rotate(-90 18.2 508.1)">reconstitution (%)</text>
<rect x="175.2" y="446.2" width="14" height="6.8" fill="#dcdcdc" stroke="#222" stroke-width="1.2"/>
<text x="196.3" y="452.9" font-size="10.3" text-anchor="start" font-weight="normal" fill="#1a1a1a">Rag1<tspan font-size="6.3" dy="-6.6">GFP-</tspan></text>
<rect x="175.2" y="461.2" width="14" height="6.8" fill="#fff" stroke="#222" stroke-width="1.2"/>
<text x="196.3" y="467.9" font-size="10.3" text-anchor="start" font-weight="normal" fill="#1a1a1a">Rag1<tspan font-size="6.3" dy="-6.6">GFPlo</tspan></text>
<rect x="175.2" y="476.2" width="14" height="6.8" fill="#000" stroke="#222" stroke-width="1.2"/>
<text x="196.3" y="482.9" font-size="10.3" text-anchor="start" font-weight="normal" fill="#1a1a1a">Rag1<tspan font-size="6.3" dy="-6.6">GFPint/hi</tspan></text>
<line x1="332.59999999999997" y1="520.73" x2="332.59999999999997" y2="531.55" stroke="#000" stroke-width="1.0"/>
<line x1="330.4" y1="520.73" x2="334.79999999999995" y2="520.73" stroke="#000" stroke-width="1.0"/>
<rect x="328.4" y="531.55" width="8.4" height="37.65000000000009" fill="#000" stroke="#000" stroke-width="1.0"/>
<line x1="345.7" y1="525.18" x2="345.7" y2="536.65" stroke="#000" stroke-width="1.0"/>
<line x1="343.5" y1="525.18" x2="347.9" y2="525.18" stroke="#000" stroke-width="1.0"/>
<rect x="341.5" y="536.65" width="8.4" height="32.55000000000007" fill="#fff" stroke="#222" stroke-width="1.0"/>
<line x1="319.49999999999994" y1="569.2" x2="319.49999999999994" y2="572.2" stroke="#222" stroke-width="1.0"/>
<line x1="332.59999999999997" y1="569.2" x2="332.59999999999997" y2="572.2" stroke="#222" stroke-width="1.0"/>
<line x1="345.7" y1="569.2" x2="345.7" y2="572.2" stroke="#222" stroke-width="1.0"/>
<text x="303.6" y="565.6" font-size="9.3" text-anchor="start" font-weight="normal" fill="#222">&lt;0.02</text>
<text x="330.6" y="586.5" font-size="10.6" text-anchor="middle" font-weight="normal" fill="#1a1a1a">3 weeks</text>
<line x1="384.5" y1="541.75" x2="384.5" y2="544.93" stroke="#000" stroke-width="1.0"/>
<line x1="382.3" y1="541.75" x2="386.7" y2="541.75" stroke="#000" stroke-width="1.0"/>
<rect x="380.3" y="544.93" width="8.4" height="24.270000000000095" fill="#000" stroke="#000" stroke-width="1.0"/>
<line x1="397.6" y1="448.11" x2="397.6" y2="481.87" stroke="#000" stroke-width="1.0"/>
<line x1="395.40000000000003" y1="448.11" x2="399.8" y2="448.11" stroke="#000" stroke-width="1.0"/>
<rect x="393.40000000000003" y="481.87" width="8.4" height="87.33000000000004" fill="#fff" stroke="#222" stroke-width="1.0"/>
<line x1="371.4" y1="569.2" x2="371.4" y2="572.2" stroke="#222" stroke-width="1.0"/>
<line x1="384.5" y1="569.2" x2="384.5" y2="572.2" stroke="#222" stroke-width="1.0"/>
<line x1="397.6" y1="569.2" x2="397.6" y2="572.2" stroke="#222" stroke-width="1.0"/>
<text x="355.8" y="565.6" font-size="9.3" text-anchor="start" font-weight="normal" fill="#222">&lt;0.02</text>
<text x="382" y="586.5" font-size="10.6" text-anchor="middle" font-weight="normal" fill="#1a1a1a">6 weeks</text>
<line x1="435.9" y1="548.12" x2="435.9" y2="550.66" stroke="#000" stroke-width="1.0"/>
<line x1="433.7" y1="548.12" x2="438.09999999999997" y2="548.12" stroke="#000" stroke-width="1.0"/>
<rect x="431.7" y="550.66" width="8.4" height="18.540000000000077" fill="#000" stroke="#000" stroke-width="1.0"/>
<line x1="449.0" y1="497.16" x2="449.0" y2="517.54" stroke="#000" stroke-width="1.0"/>
<line x1="446.8" y1="497.16" x2="451.2" y2="497.16" stroke="#000" stroke-width="1.0"/>
<rect x="444.8" y="517.54" width="8.4" height="51.66000000000008" fill="#fff" stroke="#222" stroke-width="1.0"/>
<line x1="422.79999999999995" y1="569.2" x2="422.79999999999995" y2="572.2" stroke="#222" stroke-width="1.0"/>
<line x1="435.9" y1="569.2" x2="435.9" y2="572.2" stroke="#222" stroke-width="1.0"/>
<line x1="449.0" y1="569.2" x2="449.0" y2="572.2" stroke="#222" stroke-width="1.0"/>
<text x="407.4" y="565.6" font-size="9.3" text-anchor="start" font-weight="normal" fill="#222">&lt;0.02</text>
<text x="433.8" y="586.5" font-size="10.6" text-anchor="middle" font-weight="normal" fill="#1a1a1a">9 weeks</text>
<line x1="487.4" y1="555.76" x2="487.4" y2="557.67" stroke="#000" stroke-width="1.0"/>
<line x1="485.2" y1="555.76" x2="489.59999999999997" y2="555.76" stroke="#000" stroke-width="1.0"/>
<rect x="483.2" y="557.67" width="8.4" height="11.530000000000086" fill="#000" stroke="#000" stroke-width="1.0"/>
<line x1="500.5" y1="508.62" x2="500.5" y2="527.73" stroke="#000" stroke-width="1.0"/>
<line x1="498.3" y1="508.62" x2="502.7" y2="508.62" stroke="#000" stroke-width="1.0"/>
<rect x="496.3" y="527.73" width="8.4" height="41.47000000000003" fill="#fff" stroke="#222" stroke-width="1.0"/>
<line x1="474.29999999999995" y1="569.2" x2="474.29999999999995" y2="572.2" stroke="#222" stroke-width="1.0"/>
<line x1="487.4" y1="569.2" x2="487.4" y2="572.2" stroke="#222" stroke-width="1.0"/>
<line x1="500.5" y1="569.2" x2="500.5" y2="572.2" stroke="#222" stroke-width="1.0"/>
<text x="458.8" y="565.6" font-size="9.3" text-anchor="start" font-weight="normal" fill="#222">&lt;0.02</text>
<text x="485.8" y="586.5" font-size="10.6" text-anchor="middle" font-weight="normal" fill="#1a1a1a">12 weeks</text>
<line x1="303.7" y1="439.7" x2="303.7" y2="569.8000000000001" stroke="#222" stroke-width="1.25"/>
<line x1="303.09999999999997" y1="569.2" x2="507" y2="569.2" stroke="#222" stroke-width="1.25"/>
<line x1="300.09999999999997" y1="569.2" x2="303.7" y2="569.2" stroke="#222" stroke-width="1.1"/>
<line x1="300.09999999999997" y1="543.4000000000001" x2="303.7" y2="543.4000000000001" stroke="#222" stroke-width="1.1"/>
<line x1="300.09999999999997" y1="517.6" x2="303.7" y2="517.6" stroke="#222" stroke-width="1.1"/>
<line x1="300.09999999999997" y1="491.80000000000007" x2="303.7" y2="491.80000000000007" stroke="#222" stroke-width="1.1"/>
<line x1="300.09999999999997" y1="466.00000000000006" x2="303.7" y2="466.00000000000006" stroke="#222" stroke-width="1.1"/>
<line x1="300.09999999999997" y1="440.20000000000005" x2="303.7" y2="440.20000000000005" stroke="#222" stroke-width="1.1"/>
<text x="293.8" y="569.61" font-size="7.3" text-anchor="middle" font-weight="bold" fill="#000">0</text>
<text x="293.8" y="544.59" font-size="7.3" text-anchor="middle" font-weight="bold" fill="#000">2</text>
<text x="293.8" y="519.57" font-size="7.3" text-anchor="middle" font-weight="bold" fill="#000">4</text>
<text x="293.8" y="494.55" font-size="7.3" text-anchor="middle" font-weight="bold" fill="#000">6</text>
<text x="293.8" y="469.53" font-size="7.3" text-anchor="middle" font-weight="bold" fill="#000">8</text>
<text x="293.8" y="444.51" font-size="7.3" text-anchor="middle" font-weight="bold" fill="#000">10</text>
<text x="272.6" y="500.4" font-size="8.9" text-anchor="middle" font-weight="normal" fill="#333" transform="rotate(-90 272.6 500.4)">Donor lineage</text>
<text x="284.0" y="500.2" font-size="9.1" text-anchor="middle" font-weight="normal" fill="#333" transform="rotate(-90 284.0 500.2)">reconstitution (%)</text>
<text x="385.6" y="425.6" font-size="11.7" text-anchor="start" font-weight="normal" fill="#111">Rag1<tspan font-size="7.2" dy="-7.9">GFPint/hi</tspan></text>
<rect x="463.2" y="442.4" width="13.9" height="6.5" fill="#dcdcdc" stroke="#333" stroke-width="1.25"/>
<text x="483.6" y="447.8" font-size="10.5" text-anchor="start" font-weight="normal" fill="#1a1a1a">Myeloid</text>
<rect x="463.2" y="456.0" width="13.9" height="6.5" fill="#000" stroke="#333" stroke-width="1.25"/>
<text x="483.6" y="462.7" font-size="10.5" text-anchor="start" font-weight="normal" fill="#1a1a1a">B cell</text>
<rect x="463.2" y="469.8" width="13.9" height="6.5" fill="#fff" stroke="#333" stroke-width="1.25"/>
<text x="483.6" y="475.5" font-size="10.5" text-anchor="start" font-weight="normal" fill="#1a1a1a">T cell</text>
</svg></body></html>
